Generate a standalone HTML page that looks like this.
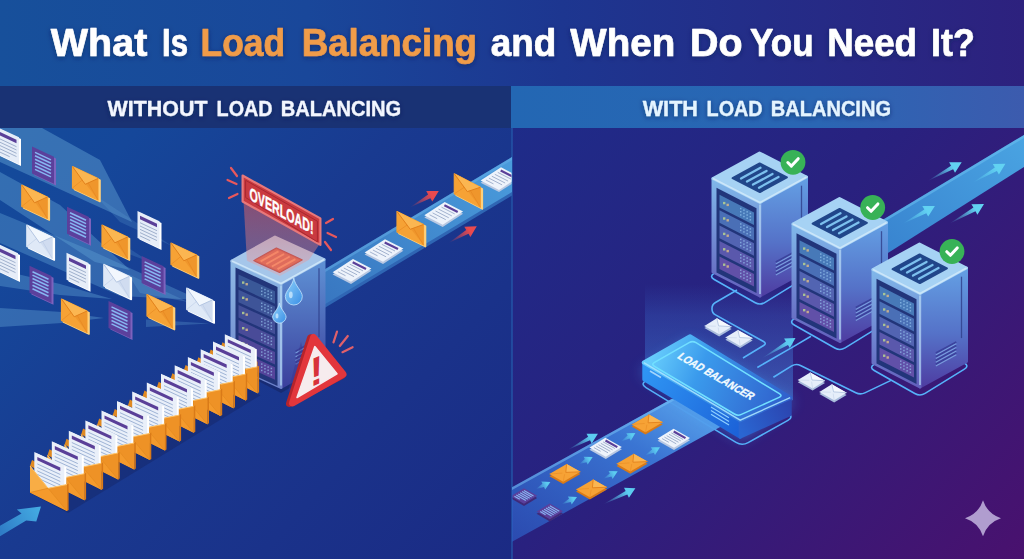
<!DOCTYPE html>
<html lang="en"><head><meta charset="utf-8"><title>What Is Load Balancing and When Do You Need It?</title>
<style>html,body{margin:0;padding:0;background:#1c2f80;}body{width:1024px;height:559px;overflow:hidden;font-family:"Liberation Sans",Arial,sans-serif;}svg{display:block;}</style>
</head><body>
<svg width="1024" height="559" viewBox="0 0 1024 559">
<defs>
<linearGradient id="gTitle" x1="0" y1="0" x2="1" y2="0"><stop offset="0" stop-color="#17509b"/><stop offset=".3" stop-color="#19479a"/><stop offset=".55" stop-color="#1d3690"/><stop offset="1" stop-color="#2d217e"/></linearGradient>
<linearGradient id="gLeft" x1="0" y1="0" x2="1" y2="1"><stop offset="0" stop-color="#124e9a"/><stop offset=".25" stop-color="#15479a"/><stop offset=".5" stop-color="#193a90"/><stop offset="1" stop-color="#1b2a84"/></linearGradient>
<linearGradient id="gRight" x1="0" y1="0" x2="1" y2="1"><stop offset="0" stop-color="#1b2f8c"/><stop offset=".5" stop-color="#29217f"/><stop offset="1" stop-color="#49116e"/></linearGradient>
<linearGradient id="gBarR" x1="0" y1="0" x2="1" y2="0"><stop offset="0" stop-color="#2367b3"/><stop offset=".6" stop-color="#2a66b4"/><stop offset="1" stop-color="#3c5bae"/></linearGradient>
<linearGradient id="gSrvL" x1="0" y1="0" x2="0" y2="1"><stop offset="0" stop-color="#8fbbe6"/><stop offset="1" stop-color="#6a7fc8"/></linearGradient>
<linearGradient id="gSrvR" x1="0" y1="0" x2="0" y2="1"><stop offset="0" stop-color="#5f93d6"/><stop offset="1" stop-color="#3b3f9c"/></linearGradient>
<linearGradient id="gSrvL2" x1="0" y1="0" x2="0" y2="1"><stop offset="0" stop-color="#80b8ea"/><stop offset="1" stop-color="#625fbc"/></linearGradient>
<linearGradient id="gSrvR2" x1="0" y1="0" x2="0" y2="1"><stop offset="0" stop-color="#64a0e4"/><stop offset=".55" stop-color="#5572c8"/><stop offset="1" stop-color="#4e3da2"/></linearGradient>
<linearGradient id="gGlow" x1="0" y1="0" x2="0" y2="1"><stop offset="0" stop-color="#e05a5a" stop-opacity=".55"/><stop offset="1" stop-color="#f0a0a0" stop-opacity=".35"/></linearGradient>
<linearGradient id="gLBtop" x1="0" y1="0" x2="1" y2="1"><stop offset="0" stop-color="#63b8f6"/><stop offset="1" stop-color="#2466d2"/></linearGradient>
<linearGradient id="gLBbeam" x1="0" y1="0" x2="0" y2="1"><stop offset="0" stop-color="#3a7fe0" stop-opacity="0"/><stop offset="1" stop-color="#4a9af0" stop-opacity=".38"/></linearGradient>
<linearGradient id="gConvR" x1="0" y1="1" x2="1" y2="0"><stop offset="0" stop-color="#2c5cc4" stop-opacity=".7"/><stop offset=".6" stop-color="#3c7edc" stop-opacity=".9"/><stop offset="1" stop-color="#66b6f6" stop-opacity="1"/></linearGradient>
<linearGradient id="gBeamR" x1="0" y1="1" x2="1" y2="0"><stop offset="0" stop-color="#347ccb"/><stop offset="1" stop-color="#4aa4e2"/></linearGradient>
<linearGradient id="gConvL" x1="0" y1="1" x2="1" y2="0"><stop offset="0" stop-color="#3876c0"/><stop offset="1" stop-color="#4a9cdc"/></linearGradient>
<linearGradient id="gDrop" x1="0" y1="0" x2="1" y2="1"><stop offset="0" stop-color="#8fd0fa"/><stop offset="1" stop-color="#3a8fe6"/></linearGradient>
</defs>
<rect x="0" y="0" width="512" height="559" fill="url(#gLeft)"/>
<rect x="512" y="0" width="512" height="559" fill="url(#gRight)"/>
<rect x="0" y="0" width="1024" height="87" fill="url(#gTitle)"/>
<rect x="0" y="86" width="512" height="42" fill="#193274"/>
<rect x="511" y="86" width="513" height="42" fill="url(#gBarR)"/>
<rect x="511" y="128" width="2" height="431" fill="#2456a8" opacity=".7"/>
<filter id="fSh" x="-5%" y="-30%" width="110%" height="170%"><feDropShadow dx="0" dy="1.5" stdDeviation="2.5" flood-color="#0a1a50" flood-opacity=".55"/></filter>
<g font-family="Liberation Sans, Arial, sans-serif" font-weight="700" filter="url(#fSh)" stroke-width=".7" stroke-linejoin="round">
<text x="50.8" y="55.7" font-size="38.5" fill="#fff" stroke="#fff" stroke-width="0.7" textLength="96.5" lengthAdjust="spacingAndGlyphs">What</text>
<text x="162.0" y="55.7" font-size="38.5" fill="#fff" stroke="#fff" stroke-width="0.7" textLength="26.0" lengthAdjust="spacingAndGlyphs">Is</text>
<text x="200.6" y="55.7" font-size="38.5" fill="#f09c48" stroke="#f09c48" stroke-width="0.7" textLength="84.6" lengthAdjust="spacingAndGlyphs">Load</text>
<text x="301.7" y="55.7" font-size="38.5" fill="#f09c48" stroke="#f09c48" stroke-width="0.7" textLength="175.3" lengthAdjust="spacingAndGlyphs">Balancing</text>
<text x="490.8" y="55.7" font-size="38.5" fill="#fff" stroke="#fff" stroke-width="0.7" textLength="65.5" lengthAdjust="spacingAndGlyphs">and</text>
<text x="570.3" y="55.7" font-size="38.5" fill="#fff" stroke="#fff" stroke-width="0.7" textLength="104.9" lengthAdjust="spacingAndGlyphs">When</text>
<text x="690.0" y="55.7" font-size="38.5" fill="#fff" stroke="#fff" stroke-width="0.7" textLength="52.5" lengthAdjust="spacingAndGlyphs">Do</text>
<text x="750.0" y="55.7" font-size="38.5" fill="#fff" stroke="#fff" stroke-width="0.7" textLength="63.6" lengthAdjust="spacingAndGlyphs">You</text>
<text x="827.3" y="55.7" font-size="38.5" fill="#fff" stroke="#fff" stroke-width="0.7" textLength="89.7" lengthAdjust="spacingAndGlyphs">Need</text>
<text x="931.0" y="55.7" font-size="38.5" fill="#fff" stroke="#fff" stroke-width="0.7" textLength="43.8" lengthAdjust="spacingAndGlyphs">It?</text>
<text x="107.6" y="115.6" font-size="21.3" fill="#f2f6ff" stroke="#f2f6ff" stroke-width="0.3" textLength="99.9" lengthAdjust="spacingAndGlyphs">WITHOUT</text>
<text x="216.6" y="115.6" font-size="21.3" fill="#f2f6ff" stroke="#f2f6ff" stroke-width="0.3" textLength="56.0" lengthAdjust="spacingAndGlyphs">LOAD</text>
<text x="280.7" y="115.6" font-size="21.3" fill="#f2f6ff" stroke="#f2f6ff" stroke-width="0.3" textLength="120.5" lengthAdjust="spacingAndGlyphs">BALANCING</text>
<text x="642.7" y="115.6" font-size="21.3" fill="#e4f4ff" stroke="#e4f4ff" stroke-width="0.3" textLength="55.3" lengthAdjust="spacingAndGlyphs">WITH</text>
<text x="706.6" y="115.6" font-size="21.3" fill="#e4f4ff" stroke="#e4f4ff" stroke-width="0.3" textLength="56.0" lengthAdjust="spacingAndGlyphs">LOAD</text>
<text x="770.8" y="115.6" font-size="21.3" fill="#e4f4ff" stroke="#e4f4ff" stroke-width="0.3" textLength="120.2" lengthAdjust="spacingAndGlyphs">BALANCING</text>
</g>
<polygon points="0.0,128.0 42.0,128.0 100.0,160.0 132.0,222.0 0.0,162.0" fill="#62a2d4" opacity="0.46"/>
<polygon points="0.0,172.0 0.0,200.0 95.0,262.0 130.0,270.0 60.0,205.0" fill="#62a2d4" opacity="0.42"/>
<polygon points="0.0,213.0 0.0,243.0 120.0,296.0 200.0,300.0 90.0,250.0" fill="#62a2d4" opacity="0.38"/>
<polygon points="0.0,270.0 0.0,286.0 60.0,295.0 112.0,299.0 60.0,284.0" fill="#62a2d4" opacity="0.4"/>
<polygon points="0.0,308.0 0.0,327.0 62.0,323.0 104.0,318.0 62.0,312.0" fill="#62a2d4" opacity="0.4"/>
<polygon points="146.0,319.5 210.0,323.5 146.0,327.0" fill="#62a2d4" opacity="0.3"/>
<polygon points="128.0,274.0 188.0,302.0 140.0,293.0" fill="#62a2d4" opacity="0.3"/>
<polygon points="96.0,196.0 172.0,246.0 120.0,222.0" fill="#62a2d4" opacity="0.22"/>
<polygon points="110.0,236.0 150.0,262.0 118.0,250.0" fill="#62a2d4" opacity="0.22"/>
<polygon points="-1.0,128.6 21.0,138.9 21.0,165.9 -1.0,155.6" fill="#ffffff" />
<polygon points="-3.0,127.0 19.0,137.3 19.0,164.3 -3.0,154.0" fill="#e6edf8" />
<polygon points="-0.5,131.7 16.5,139.7 16.5,143.3 -0.5,135.3" fill="#5a3f98" />
<line x1="-0.5" y1="138.7" x2="16.5" y2="146.7" stroke="#9fb0cc" stroke-width="1"/>
<line x1="-0.5" y1="142.0" x2="16.5" y2="150.0" stroke="#9fb0cc" stroke-width="1"/>
<line x1="-0.5" y1="145.3" x2="16.5" y2="153.3" stroke="#9fb0cc" stroke-width="1"/>
<line x1="-0.5" y1="148.6" x2="16.5" y2="156.6" stroke="#9fb0cc" stroke-width="1"/>
<line x1="-0.5" y1="151.9" x2="9.7" y2="156.7" stroke="#9fb0cc" stroke-width="1"/>
<polygon points="34.0,148.1 56.0,158.4 56.0,185.4 34.0,175.1" fill="#7d62bd" />
<polygon points="32.0,146.5 54.0,156.8 54.0,183.8 32.0,173.5" fill="#5b409c" />
<line x1="35.0" y1="152.4" x2="51.0" y2="159.9" stroke="#86b6f2" stroke-width="1.5"/>
<line x1="35.0" y1="155.8" x2="51.0" y2="163.3" stroke="#86b6f2" stroke-width="1.5"/>
<line x1="35.0" y1="159.2" x2="51.0" y2="166.7" stroke="#86b6f2" stroke-width="1.5"/>
<line x1="35.0" y1="162.6" x2="51.0" y2="170.1" stroke="#86b6f2" stroke-width="1.5"/>
<line x1="35.0" y1="166.0" x2="51.0" y2="173.5" stroke="#86b6f2" stroke-width="1.5"/>
<line x1="35.0" y1="169.4" x2="51.0" y2="176.9" stroke="#86b6f2" stroke-width="1.5"/>
<polygon points="74.5,168.1 100.0,180.1 100.0,201.6 74.5,189.6" fill="#ffd07a" stroke="#ffd07a" stroke-width="1.6" stroke-linejoin="round"/>
<polygon points="72.5,166.5 98.0,178.5 98.0,200.0 72.5,188.0" fill="#f6a235" stroke="#f6a235" stroke-width="1.2" stroke-linejoin="round"/>
<polygon points="98.0,178.5 98.0,200.0 85.2,183.2" fill="#e2811c" opacity=".35"/>
<polygon points="72.5,166.5 98.0,178.5 85.2,184.3" fill="#fbb651" />
<polyline points="72.5,166.5 85.2,184.3 98.0,178.5" fill="none" stroke="#e2811c" stroke-width="1"/>
<polyline points="72.5,188.0 82.2,180.1" fill="none" stroke="#e2811c" stroke-width=".7" opacity=".7"/>
<polyline points="98.0,200.0 88.3,183.0" fill="none" stroke="#e2811c" stroke-width=".7" opacity=".7"/>
<polygon points="23.8,186.6 49.3,198.6 49.3,220.1 23.8,208.1" fill="#ffd07a" stroke="#ffd07a" stroke-width="1.6" stroke-linejoin="round"/>
<polygon points="21.8,185.0 47.3,197.0 47.3,218.5 21.8,206.5" fill="#f6a235" stroke="#f6a235" stroke-width="1.2" stroke-linejoin="round"/>
<polygon points="47.3,197.0 47.3,218.5 34.5,201.7" fill="#e2811c" opacity=".35"/>
<polygon points="21.8,185.0 47.3,197.0 34.5,202.8" fill="#fbb651" />
<polyline points="21.8,185.0 34.5,202.8 47.3,197.0" fill="none" stroke="#e2811c" stroke-width="1"/>
<polyline points="21.8,206.5 31.5,198.6" fill="none" stroke="#e2811c" stroke-width=".7" opacity=".7"/>
<polyline points="47.3,218.5 37.6,201.5" fill="none" stroke="#e2811c" stroke-width=".7" opacity=".7"/>
<polygon points="69.0,208.4 91.0,218.7 91.0,245.7 69.0,235.4" fill="#7d62bd" />
<polygon points="67.0,206.8 89.0,217.1 89.0,244.1 67.0,233.8" fill="#5b409c" />
<line x1="70.0" y1="212.7" x2="86.0" y2="220.2" stroke="#86b6f2" stroke-width="1.5"/>
<line x1="70.0" y1="216.1" x2="86.0" y2="223.6" stroke="#86b6f2" stroke-width="1.5"/>
<line x1="70.0" y1="219.5" x2="86.0" y2="227.0" stroke="#86b6f2" stroke-width="1.5"/>
<line x1="70.0" y1="222.9" x2="86.0" y2="230.4" stroke="#86b6f2" stroke-width="1.5"/>
<line x1="70.0" y1="226.3" x2="86.0" y2="233.8" stroke="#86b6f2" stroke-width="1.5"/>
<line x1="70.0" y1="229.7" x2="86.0" y2="237.2" stroke="#86b6f2" stroke-width="1.5"/>
<polygon points="28.8,226.6 54.3,238.6 54.3,260.1 28.8,248.1" fill="#ffffff" stroke="#ffffff" stroke-width="1.6" stroke-linejoin="round"/>
<polygon points="26.8,225.0 52.3,237.0 52.3,258.5 26.8,246.5" fill="#dfe9f7" stroke="#dfe9f7" stroke-width="1.2" stroke-linejoin="round"/>
<polygon points="52.3,237.0 52.3,258.5 39.5,241.7" fill="#b4c6e2" opacity=".35"/>
<polygon points="26.8,225.0 52.3,237.0 39.5,242.8" fill="#f2f7fd" />
<polyline points="26.8,225.0 39.5,242.8 52.3,237.0" fill="none" stroke="#b4c6e2" stroke-width="1"/>
<polyline points="26.8,246.5 36.5,238.6" fill="none" stroke="#b4c6e2" stroke-width=".7" opacity=".7"/>
<polyline points="52.3,258.5 42.6,241.5" fill="none" stroke="#b4c6e2" stroke-width=".7" opacity=".7"/>
<polygon points="104.0,226.6 129.5,238.6 129.5,260.1 104.0,248.1" fill="#ffd07a" stroke="#ffd07a" stroke-width="1.6" stroke-linejoin="round"/>
<polygon points="102.0,225.0 127.5,237.0 127.5,258.5 102.0,246.5" fill="#f6a235" stroke="#f6a235" stroke-width="1.2" stroke-linejoin="round"/>
<polygon points="127.5,237.0 127.5,258.5 114.8,241.7" fill="#e2811c" opacity=".35"/>
<polygon points="102.0,225.0 127.5,237.0 114.8,242.8" fill="#fbb651" />
<polyline points="102.0,225.0 114.8,242.8 127.5,237.0" fill="none" stroke="#e2811c" stroke-width="1"/>
<polyline points="102.0,246.5 111.7,238.6" fill="none" stroke="#e2811c" stroke-width=".7" opacity=".7"/>
<polyline points="127.5,258.5 117.8,241.5" fill="none" stroke="#e2811c" stroke-width=".7" opacity=".7"/>
<polygon points="139.5,212.6 161.5,222.9 161.5,249.9 139.5,239.6" fill="#ffffff" />
<polygon points="137.5,211.0 159.5,221.3 159.5,248.3 137.5,238.0" fill="#e6edf8" />
<polygon points="140.0,215.7 157.0,223.7 157.0,227.3 140.0,219.3" fill="#5a3f98" />
<line x1="140.0" y1="222.7" x2="157.0" y2="230.7" stroke="#9fb0cc" stroke-width="1"/>
<line x1="140.0" y1="226.0" x2="157.0" y2="234.0" stroke="#9fb0cc" stroke-width="1"/>
<line x1="140.0" y1="229.3" x2="157.0" y2="237.3" stroke="#9fb0cc" stroke-width="1"/>
<line x1="140.0" y1="232.6" x2="157.0" y2="240.6" stroke="#9fb0cc" stroke-width="1"/>
<line x1="140.0" y1="235.9" x2="150.2" y2="240.7" stroke="#9fb0cc" stroke-width="1"/>
<polygon points="173.0,244.6 198.5,256.6 198.5,278.1 173.0,266.1" fill="#ffd07a" stroke="#ffd07a" stroke-width="1.6" stroke-linejoin="round"/>
<polygon points="171.0,243.0 196.5,255.0 196.5,276.5 171.0,264.5" fill="#f6a235" stroke="#f6a235" stroke-width="1.2" stroke-linejoin="round"/>
<polygon points="196.5,255.0 196.5,276.5 183.8,259.7" fill="#e2811c" opacity=".35"/>
<polygon points="171.0,243.0 196.5,255.0 183.8,260.8" fill="#fbb651" />
<polyline points="171.0,243.0 183.8,260.8 196.5,255.0" fill="none" stroke="#e2811c" stroke-width="1"/>
<polyline points="171.0,264.5 180.7,256.6" fill="none" stroke="#e2811c" stroke-width=".7" opacity=".7"/>
<polyline points="196.5,276.5 186.8,259.5" fill="none" stroke="#e2811c" stroke-width=".7" opacity=".7"/>
<polygon points="143.6,257.6 165.6,267.9 165.6,294.9 143.6,284.6" fill="#7d62bd" />
<polygon points="141.6,256.0 163.6,266.3 163.6,293.3 141.6,283.0" fill="#5b409c" />
<line x1="144.6" y1="261.9" x2="160.6" y2="269.4" stroke="#86b6f2" stroke-width="1.5"/>
<line x1="144.6" y1="265.3" x2="160.6" y2="272.8" stroke="#86b6f2" stroke-width="1.5"/>
<line x1="144.6" y1="268.7" x2="160.6" y2="276.2" stroke="#86b6f2" stroke-width="1.5"/>
<line x1="144.6" y1="272.1" x2="160.6" y2="279.6" stroke="#86b6f2" stroke-width="1.5"/>
<line x1="144.6" y1="275.5" x2="160.6" y2="283.0" stroke="#86b6f2" stroke-width="1.5"/>
<line x1="144.6" y1="278.9" x2="160.6" y2="286.4" stroke="#86b6f2" stroke-width="1.5"/>
<polygon points="-2.0,244.6 20.0,254.9 20.0,281.9 -2.0,271.6" fill="#ffffff" />
<polygon points="-4.0,243.0 18.0,253.3 18.0,280.3 -4.0,270.0" fill="#e6edf8" />
<polygon points="-1.5,247.7 15.5,255.7 15.5,259.3 -1.5,251.3" fill="#5a3f98" />
<line x1="-1.5" y1="254.7" x2="15.5" y2="262.7" stroke="#9fb0cc" stroke-width="1"/>
<line x1="-1.5" y1="258.0" x2="15.5" y2="266.0" stroke="#9fb0cc" stroke-width="1"/>
<line x1="-1.5" y1="261.3" x2="15.5" y2="269.3" stroke="#9fb0cc" stroke-width="1"/>
<line x1="-1.5" y1="264.6" x2="15.5" y2="272.6" stroke="#9fb0cc" stroke-width="1"/>
<line x1="-1.5" y1="267.9" x2="8.7" y2="272.7" stroke="#9fb0cc" stroke-width="1"/>
<polygon points="68.5,254.4 90.5,264.7 90.5,291.7 68.5,281.4" fill="#ffffff" />
<polygon points="66.5,252.8 88.5,263.1 88.5,290.1 66.5,279.8" fill="#e6edf8" />
<polygon points="69.0,257.5 86.0,265.5 86.0,269.1 69.0,261.1" fill="#5a3f98" />
<line x1="69.0" y1="264.5" x2="86.0" y2="272.5" stroke="#9fb0cc" stroke-width="1"/>
<line x1="69.0" y1="267.8" x2="86.0" y2="275.8" stroke="#9fb0cc" stroke-width="1"/>
<line x1="69.0" y1="271.1" x2="86.0" y2="279.1" stroke="#9fb0cc" stroke-width="1"/>
<line x1="69.0" y1="274.4" x2="86.0" y2="282.4" stroke="#9fb0cc" stroke-width="1"/>
<line x1="69.0" y1="277.7" x2="79.2" y2="282.5" stroke="#9fb0cc" stroke-width="1"/>
<polygon points="31.5,267.4 53.5,277.7 53.5,304.7 31.5,294.4" fill="#7d62bd" />
<polygon points="29.5,265.8 51.5,276.1 51.5,303.1 29.5,292.8" fill="#5b409c" />
<line x1="32.5" y1="271.7" x2="48.5" y2="279.2" stroke="#86b6f2" stroke-width="1.5"/>
<line x1="32.5" y1="275.1" x2="48.5" y2="282.6" stroke="#86b6f2" stroke-width="1.5"/>
<line x1="32.5" y1="278.5" x2="48.5" y2="286.0" stroke="#86b6f2" stroke-width="1.5"/>
<line x1="32.5" y1="281.9" x2="48.5" y2="289.4" stroke="#86b6f2" stroke-width="1.5"/>
<line x1="32.5" y1="285.3" x2="48.5" y2="292.8" stroke="#86b6f2" stroke-width="1.5"/>
<line x1="32.5" y1="288.7" x2="48.5" y2="296.2" stroke="#86b6f2" stroke-width="1.5"/>
<polygon points="105.8,266.0 131.3,278.0 131.3,299.5 105.8,287.5" fill="#ffffff" stroke="#ffffff" stroke-width="1.6" stroke-linejoin="round"/>
<polygon points="103.8,264.4 129.3,276.4 129.3,297.9 103.8,285.9" fill="#dfe9f7" stroke="#dfe9f7" stroke-width="1.2" stroke-linejoin="round"/>
<polygon points="129.3,276.4 129.3,297.9 116.5,281.1" fill="#b4c6e2" opacity=".35"/>
<polygon points="103.8,264.4 129.3,276.4 116.5,282.2" fill="#f2f7fd" />
<polyline points="103.8,264.4 116.5,282.2 129.3,276.4" fill="none" stroke="#b4c6e2" stroke-width="1"/>
<polyline points="103.8,285.9 113.5,278.0" fill="none" stroke="#b4c6e2" stroke-width=".7" opacity=".7"/>
<polyline points="129.3,297.9 119.6,280.9" fill="none" stroke="#b4c6e2" stroke-width=".7" opacity=".7"/>
<polygon points="63.5,300.6 89.0,312.6 89.0,334.1 63.5,322.1" fill="#ffd07a" stroke="#ffd07a" stroke-width="1.6" stroke-linejoin="round"/>
<polygon points="61.5,299.0 87.0,311.0 87.0,332.5 61.5,320.5" fill="#f6a235" stroke="#f6a235" stroke-width="1.2" stroke-linejoin="round"/>
<polygon points="87.0,311.0 87.0,332.5 74.2,315.7" fill="#e2811c" opacity=".35"/>
<polygon points="61.5,299.0 87.0,311.0 74.2,316.8" fill="#fbb651" />
<polyline points="61.5,299.0 74.2,316.8 87.0,311.0" fill="none" stroke="#e2811c" stroke-width="1"/>
<polyline points="61.5,320.5 71.2,312.6" fill="none" stroke="#e2811c" stroke-width=".7" opacity=".7"/>
<polyline points="87.0,332.5 77.3,315.5" fill="none" stroke="#e2811c" stroke-width=".7" opacity=".7"/>
<polygon points="110.5,302.6 132.5,312.9 132.5,339.9 110.5,329.6" fill="#7d62bd" />
<polygon points="108.5,301.0 130.5,311.3 130.5,338.3 108.5,328.0" fill="#5b409c" />
<line x1="111.5" y1="306.9" x2="127.5" y2="314.4" stroke="#86b6f2" stroke-width="1.5"/>
<line x1="111.5" y1="310.3" x2="127.5" y2="317.8" stroke="#86b6f2" stroke-width="1.5"/>
<line x1="111.5" y1="313.7" x2="127.5" y2="321.2" stroke="#86b6f2" stroke-width="1.5"/>
<line x1="111.5" y1="317.1" x2="127.5" y2="324.6" stroke="#86b6f2" stroke-width="1.5"/>
<line x1="111.5" y1="320.5" x2="127.5" y2="328.0" stroke="#86b6f2" stroke-width="1.5"/>
<line x1="111.5" y1="323.9" x2="127.5" y2="331.4" stroke="#86b6f2" stroke-width="1.5"/>
<polygon points="149.0,296.1 174.5,308.1 174.5,329.6 149.0,317.6" fill="#ffd07a" stroke="#ffd07a" stroke-width="1.6" stroke-linejoin="round"/>
<polygon points="147.0,294.5 172.5,306.5 172.5,328.0 147.0,316.0" fill="#f6a235" stroke="#f6a235" stroke-width="1.2" stroke-linejoin="round"/>
<polygon points="172.5,306.5 172.5,328.0 159.8,311.2" fill="#e2811c" opacity=".35"/>
<polygon points="147.0,294.5 172.5,306.5 159.8,312.3" fill="#fbb651" />
<polyline points="147.0,294.5 159.8,312.3 172.5,306.5" fill="none" stroke="#e2811c" stroke-width="1"/>
<polyline points="147.0,316.0 156.7,308.1" fill="none" stroke="#e2811c" stroke-width=".7" opacity=".7"/>
<polyline points="172.5,328.0 162.8,311.0" fill="none" stroke="#e2811c" stroke-width=".7" opacity=".7"/>
<polygon points="188.7,289.6 214.2,301.6 214.2,323.1 188.7,311.1" fill="#ffffff" stroke="#ffffff" stroke-width="1.6" stroke-linejoin="round"/>
<polygon points="186.7,288.0 212.2,300.0 212.2,321.5 186.7,309.5" fill="#dfe9f7" stroke="#dfe9f7" stroke-width="1.2" stroke-linejoin="round"/>
<polygon points="212.2,300.0 212.2,321.5 199.4,304.7" fill="#b4c6e2" opacity=".35"/>
<polygon points="186.7,288.0 212.2,300.0 199.4,305.8" fill="#f2f7fd" />
<polyline points="186.7,288.0 199.4,305.8 212.2,300.0" fill="none" stroke="#b4c6e2" stroke-width="1"/>
<polyline points="186.7,309.5 196.4,301.6" fill="none" stroke="#b4c6e2" stroke-width=".7" opacity=".7"/>
<polyline points="212.2,321.5 202.5,304.5" fill="none" stroke="#b4c6e2" stroke-width=".7" opacity=".7"/>
<polygon points="322.0,271.0 512.0,157.0 512.0,194.0 322.0,308.0" fill="url(#gConvL)" />
<polygon points="322.0,306.0 512.0,192.0 512.0,195.5 322.0,309.5" fill="#2f66b4" />
<polygon points="322.0,271.0 512.0,157.0 512.0,160.0 322.0,274.0" fill="#66aee8" opacity=".5"/>
<polygon points="332.6,274.5 353.0,261.3 371.4,270.7 351.0,283.9" fill="#b9c8e2" />
<polygon points="332.6,272.3 353.0,259.1 371.4,268.5 351.0,281.7" fill="#eef3fb" />
<line x1="352.7" y1="262.3" x2="366.0" y2="269.0" stroke="#5a3f98" stroke-width="2.2"/>
<line x1="349.8" y1="264.2" x2="363.0" y2="270.9" stroke="#9aaac8" stroke-width=".9"/>
<line x1="346.8" y1="266.1" x2="360.1" y2="272.9" stroke="#9aaac8" stroke-width=".9"/>
<line x1="343.8" y1="268.0" x2="357.1" y2="274.8" stroke="#9aaac8" stroke-width=".9"/>
<line x1="340.9" y1="269.9" x2="354.1" y2="276.7" stroke="#9aaac8" stroke-width=".9"/>
<line x1="337.9" y1="271.8" x2="345.5" y2="275.7" stroke="#9aaac8" stroke-width=".9"/>
<polygon points="364.6,254.6 385.0,241.4 403.4,250.8 383.0,264.0" fill="#b9c8e2" />
<polygon points="364.6,252.4 385.0,239.2 403.4,248.6 383.0,261.8" fill="#eef3fb" />
<line x1="384.7" y1="242.4" x2="398.0" y2="249.1" stroke="#5a3f98" stroke-width="2.2"/>
<line x1="381.8" y1="244.3" x2="395.0" y2="251.0" stroke="#9aaac8" stroke-width=".9"/>
<line x1="378.8" y1="246.2" x2="392.1" y2="253.0" stroke="#9aaac8" stroke-width=".9"/>
<line x1="375.8" y1="248.1" x2="389.1" y2="254.9" stroke="#9aaac8" stroke-width=".9"/>
<line x1="372.9" y1="250.0" x2="386.1" y2="256.8" stroke="#9aaac8" stroke-width=".9"/>
<line x1="369.9" y1="251.9" x2="377.5" y2="255.8" stroke="#9aaac8" stroke-width=".9"/>
<polygon points="399.0,213.1 425.5,226.1 425.5,246.6 399.0,233.6" fill="#ffd07a" stroke="#ffd07a" stroke-width="1.6" stroke-linejoin="round"/>
<polygon points="397.0,211.5 423.5,224.5 423.5,245.0 397.0,232.0" fill="#f6a235" stroke="#f6a235" stroke-width="1.2" stroke-linejoin="round"/>
<polygon points="423.5,224.5 423.5,245.0 410.2,228.2" fill="#e2811c" opacity=".35"/>
<polygon points="397.0,211.5 423.5,224.5 410.2,229.3" fill="#fbb651" />
<polyline points="397.0,211.5 410.2,229.3 423.5,224.5" fill="none" stroke="#e2811c" stroke-width="1"/>
<polyline points="397.0,232.0 407.1,225.0" fill="none" stroke="#e2811c" stroke-width=".7" opacity=".7"/>
<polyline points="423.5,245.0 413.4,228.2" fill="none" stroke="#e2811c" stroke-width=".7" opacity=".7"/>
<polygon points="424.3,217.5 444.7,204.3 463.1,213.7 442.7,226.9" fill="#b9c8e2" />
<polygon points="424.3,215.3 444.7,202.1 463.1,211.5 442.7,224.7" fill="#eef3fb" />
<line x1="444.4" y1="205.3" x2="457.7" y2="212.0" stroke="#5a3f98" stroke-width="2.2"/>
<line x1="441.5" y1="207.2" x2="454.7" y2="213.9" stroke="#9aaac8" stroke-width=".9"/>
<line x1="438.5" y1="209.1" x2="451.8" y2="215.9" stroke="#9aaac8" stroke-width=".9"/>
<line x1="435.5" y1="211.0" x2="448.8" y2="217.8" stroke="#9aaac8" stroke-width=".9"/>
<line x1="432.6" y1="212.9" x2="445.8" y2="219.7" stroke="#9aaac8" stroke-width=".9"/>
<line x1="429.6" y1="214.8" x2="437.2" y2="218.7" stroke="#9aaac8" stroke-width=".9"/>
<polygon points="456.3,175.4 482.3,188.9 482.3,208.9 456.3,195.4" fill="#ffd07a" stroke="#ffd07a" stroke-width="1.6" stroke-linejoin="round"/>
<polygon points="454.3,173.8 480.3,187.3 480.3,207.3 454.3,193.8" fill="#f6a235" stroke="#f6a235" stroke-width="1.2" stroke-linejoin="round"/>
<polygon points="480.3,187.3 480.3,207.3 467.3,190.6" fill="#e2811c" opacity=".35"/>
<polygon points="454.3,173.8 480.3,187.3 467.3,191.6" fill="#fbb651" />
<polyline points="454.3,173.8 467.3,191.6 480.3,187.3" fill="none" stroke="#e2811c" stroke-width="1"/>
<polyline points="454.3,193.8 464.2,187.3" fill="none" stroke="#e2811c" stroke-width=".7" opacity=".7"/>
<polyline points="480.3,207.3 470.4,190.6" fill="none" stroke="#e2811c" stroke-width=".7" opacity=".7"/>
<clipPath id="cL"><rect x="0" y="0" width="511.5" height="559"/></clipPath><g clip-path="url(#cL)">
<polygon points="480.6,182.7 501.0,169.5 519.4,178.9 499.0,192.1" fill="#b9c8e2" />
<polygon points="480.6,180.5 501.0,167.3 519.4,176.7 499.0,189.9" fill="#eef3fb" />
<line x1="500.7" y1="170.5" x2="514.0" y2="177.2" stroke="#5a3f98" stroke-width="2.2"/>
<line x1="497.8" y1="172.4" x2="511.0" y2="179.1" stroke="#9aaac8" stroke-width=".9"/>
<line x1="494.8" y1="174.3" x2="508.1" y2="181.1" stroke="#9aaac8" stroke-width=".9"/>
<line x1="491.8" y1="176.2" x2="505.1" y2="183.0" stroke="#9aaac8" stroke-width=".9"/>
<line x1="488.9" y1="178.1" x2="502.1" y2="184.9" stroke="#9aaac8" stroke-width=".9"/>
<line x1="485.9" y1="180.0" x2="493.5" y2="183.9" stroke="#9aaac8" stroke-width=".9"/>
</g>
<linearGradient id="ga221" gradientUnits="userSpaceOnUse" x1="409.8" y1="207.6" x2="438.8" y2="190.9"><stop offset="0" stop-color="#ea4a4e" stop-opacity="0"/><stop offset=".75" stop-color="#ea4a4e" stop-opacity="1"/></linearGradient>
<polygon points="409.8,207.6 430.4,198.3 432.3,201.6 438.8,190.9 426.2,191.1 428.1,194.4" fill="url(#ga221)" />
<linearGradient id="ga223" gradientUnits="userSpaceOnUse" x1="448.5" y1="243.0" x2="476.8" y2="226.3"><stop offset="0" stop-color="#ea4a4e" stop-opacity="0"/><stop offset=".75" stop-color="#ea4a4e" stop-opacity="1"/></linearGradient>
<polygon points="448.5,243.0 468.5,233.8 470.4,237.1 476.8,226.3 464.3,226.7 466.2,230.0" fill="url(#ga223)" />
<polygon points="228.0,365.0 281.0,393.0 328.0,366.0 281.0,345.0" fill="#16235f" opacity=".55"/>
<polygon points="281.0,283.5 324.0,259.5 324.0,363.5 281.0,387.5" fill="url(#gSrvR)" stroke="url(#gSrvR)" stroke-width="3" stroke-linejoin="round"/>
<polygon points="232.0,261.0 281.0,283.5 281.0,387.5 232.0,365.0" fill="url(#gSrvL)" stroke="url(#gSrvL)" stroke-width="3" stroke-linejoin="round"/>
<polygon points="232.0,261.0 275.0,237.0 324.0,259.5 281.0,283.5" fill="#a5c6ea" stroke="#a5c6ea" stroke-width="3" stroke-linejoin="round"/>
<polyline points="232.0,261.0 281.0,283.5 324.0,259.5" fill="none" stroke="#cfe8fa" stroke-width="1.6" stroke-linejoin="round" opacity=".9"/>
<line x1="281.0" y1="285.5" x2="281.0" y2="385.5" stroke="#b9dcf8" stroke-width="1.6" opacity=".8"/>
<polygon points="235.5,267.6 277.5,286.9 277.5,386.0 235.5,366.7" fill="#22357a" />
<polygon points="238.5,274.5 275.0,291.2 275.0,303.8 238.5,287.1" fill="#3a5898" />
<rect x="242.0" y="281.4" width="2.4" height="2.4" fill="#b9d48e" opacity=".85"/>
<rect x="245.5" y="283.0" width="2.4" height="2.4" fill="#d8b98a" opacity=".85"/>
<rect x="261.0" y="287.3" width="1.5" height="1.5" fill="#9fd0f6" opacity=".6"/>
<rect x="264.2" y="288.8" width="1.5" height="1.5" fill="#9fd0f6" opacity=".6"/>
<rect x="267.4" y="290.3" width="1.5" height="1.5" fill="#9fd0f6" opacity=".6"/>
<rect x="270.6" y="291.7" width="1.5" height="1.5" fill="#9fd0f6" opacity=".6"/>
<rect x="261.0" y="290.5" width="1.5" height="1.5" fill="#9fd0f6" opacity=".6"/>
<rect x="264.2" y="292.0" width="1.5" height="1.5" fill="#9fd0f6" opacity=".6"/>
<rect x="267.4" y="293.5" width="1.5" height="1.5" fill="#9fd0f6" opacity=".6"/>
<rect x="270.6" y="294.9" width="1.5" height="1.5" fill="#9fd0f6" opacity=".6"/>
<rect x="261.0" y="293.7" width="1.5" height="1.5" fill="#9fd0f6" opacity=".6"/>
<rect x="264.2" y="295.2" width="1.5" height="1.5" fill="#9fd0f6" opacity=".6"/>
<rect x="267.4" y="296.7" width="1.5" height="1.5" fill="#9fd0f6" opacity=".6"/>
<rect x="270.6" y="298.1" width="1.5" height="1.5" fill="#9fd0f6" opacity=".6"/>
<polygon points="238.5,289.7 275.0,306.4 275.0,319.0 238.5,302.3" fill="#3e5498" />
<rect x="242.0" y="296.6" width="2.4" height="2.4" fill="#b9d48e" opacity=".85"/>
<rect x="245.5" y="298.2" width="2.4" height="2.4" fill="#d8b98a" opacity=".85"/>
<rect x="261.0" y="302.5" width="1.5" height="1.5" fill="#9fd0f6" opacity=".6"/>
<rect x="264.2" y="304.0" width="1.5" height="1.5" fill="#9fd0f6" opacity=".6"/>
<rect x="267.4" y="305.5" width="1.5" height="1.5" fill="#9fd0f6" opacity=".6"/>
<rect x="270.6" y="306.9" width="1.5" height="1.5" fill="#9fd0f6" opacity=".6"/>
<rect x="261.0" y="305.7" width="1.5" height="1.5" fill="#9fd0f6" opacity=".6"/>
<rect x="264.2" y="307.2" width="1.5" height="1.5" fill="#9fd0f6" opacity=".6"/>
<rect x="267.4" y="308.7" width="1.5" height="1.5" fill="#9fd0f6" opacity=".6"/>
<rect x="270.6" y="310.1" width="1.5" height="1.5" fill="#9fd0f6" opacity=".6"/>
<rect x="261.0" y="308.9" width="1.5" height="1.5" fill="#9fd0f6" opacity=".6"/>
<rect x="264.2" y="310.4" width="1.5" height="1.5" fill="#9fd0f6" opacity=".6"/>
<rect x="267.4" y="311.9" width="1.5" height="1.5" fill="#9fd0f6" opacity=".6"/>
<rect x="270.6" y="313.3" width="1.5" height="1.5" fill="#9fd0f6" opacity=".6"/>
<polygon points="238.5,304.9 275.0,321.6 275.0,334.2 238.5,317.5" fill="#434f98" />
<rect x="242.0" y="311.8" width="2.4" height="2.4" fill="#b9d48e" opacity=".85"/>
<rect x="245.5" y="313.4" width="2.4" height="2.4" fill="#d8b98a" opacity=".85"/>
<rect x="261.0" y="317.7" width="1.5" height="1.5" fill="#9fd0f6" opacity=".6"/>
<rect x="264.2" y="319.2" width="1.5" height="1.5" fill="#9fd0f6" opacity=".6"/>
<rect x="267.4" y="320.7" width="1.5" height="1.5" fill="#9fd0f6" opacity=".6"/>
<rect x="270.6" y="322.1" width="1.5" height="1.5" fill="#9fd0f6" opacity=".6"/>
<rect x="261.0" y="320.9" width="1.5" height="1.5" fill="#9fd0f6" opacity=".6"/>
<rect x="264.2" y="322.4" width="1.5" height="1.5" fill="#9fd0f6" opacity=".6"/>
<rect x="267.4" y="323.9" width="1.5" height="1.5" fill="#9fd0f6" opacity=".6"/>
<rect x="270.6" y="325.3" width="1.5" height="1.5" fill="#9fd0f6" opacity=".6"/>
<rect x="261.0" y="324.1" width="1.5" height="1.5" fill="#9fd0f6" opacity=".6"/>
<rect x="264.2" y="325.6" width="1.5" height="1.5" fill="#9fd0f6" opacity=".6"/>
<rect x="267.4" y="327.1" width="1.5" height="1.5" fill="#9fd0f6" opacity=".6"/>
<rect x="270.6" y="328.5" width="1.5" height="1.5" fill="#9fd0f6" opacity=".6"/>
<polygon points="238.5,320.1 275.0,336.8 275.0,349.4 238.5,332.7" fill="#494b98" />
<rect x="242.0" y="327.0" width="2.4" height="2.4" fill="#b9d48e" opacity=".85"/>
<rect x="245.5" y="328.6" width="2.4" height="2.4" fill="#d8b98a" opacity=".85"/>
<rect x="261.0" y="332.9" width="1.5" height="1.5" fill="#9fd0f6" opacity=".6"/>
<rect x="264.2" y="334.4" width="1.5" height="1.5" fill="#9fd0f6" opacity=".6"/>
<rect x="267.4" y="335.9" width="1.5" height="1.5" fill="#9fd0f6" opacity=".6"/>
<rect x="270.6" y="337.3" width="1.5" height="1.5" fill="#9fd0f6" opacity=".6"/>
<rect x="261.0" y="336.1" width="1.5" height="1.5" fill="#9fd0f6" opacity=".6"/>
<rect x="264.2" y="337.6" width="1.5" height="1.5" fill="#9fd0f6" opacity=".6"/>
<rect x="267.4" y="339.1" width="1.5" height="1.5" fill="#9fd0f6" opacity=".6"/>
<rect x="270.6" y="340.5" width="1.5" height="1.5" fill="#9fd0f6" opacity=".6"/>
<rect x="261.0" y="339.3" width="1.5" height="1.5" fill="#9fd0f6" opacity=".6"/>
<rect x="264.2" y="340.8" width="1.5" height="1.5" fill="#9fd0f6" opacity=".6"/>
<rect x="267.4" y="342.3" width="1.5" height="1.5" fill="#9fd0f6" opacity=".6"/>
<rect x="270.6" y="343.7" width="1.5" height="1.5" fill="#9fd0f6" opacity=".6"/>
<polygon points="238.5,335.3 275.0,352.0 275.0,364.6 238.5,347.9" fill="#4f4799" />
<rect x="242.0" y="342.2" width="2.4" height="2.4" fill="#b9d48e" opacity=".85"/>
<rect x="245.5" y="343.8" width="2.4" height="2.4" fill="#d8b98a" opacity=".85"/>
<rect x="261.0" y="348.1" width="1.5" height="1.5" fill="#9fd0f6" opacity=".6"/>
<rect x="264.2" y="349.6" width="1.5" height="1.5" fill="#9fd0f6" opacity=".6"/>
<rect x="267.4" y="351.1" width="1.5" height="1.5" fill="#9fd0f6" opacity=".6"/>
<rect x="270.6" y="352.5" width="1.5" height="1.5" fill="#9fd0f6" opacity=".6"/>
<rect x="261.0" y="351.3" width="1.5" height="1.5" fill="#9fd0f6" opacity=".6"/>
<rect x="264.2" y="352.8" width="1.5" height="1.5" fill="#9fd0f6" opacity=".6"/>
<rect x="267.4" y="354.3" width="1.5" height="1.5" fill="#9fd0f6" opacity=".6"/>
<rect x="270.6" y="355.7" width="1.5" height="1.5" fill="#9fd0f6" opacity=".6"/>
<rect x="261.0" y="354.5" width="1.5" height="1.5" fill="#9fd0f6" opacity=".6"/>
<rect x="264.2" y="356.0" width="1.5" height="1.5" fill="#9fd0f6" opacity=".6"/>
<rect x="267.4" y="357.5" width="1.5" height="1.5" fill="#9fd0f6" opacity=".6"/>
<rect x="270.6" y="358.9" width="1.5" height="1.5" fill="#9fd0f6" opacity=".6"/>
<polygon points="238.5,350.5 275.0,367.2 275.0,379.8 238.5,363.1" fill="#55449a" />
<rect x="242.0" y="357.4" width="2.4" height="2.4" fill="#b9d48e" opacity=".85"/>
<rect x="245.5" y="359.0" width="2.4" height="2.4" fill="#d8b98a" opacity=".85"/>
<rect x="261.0" y="363.3" width="1.5" height="1.5" fill="#9fd0f6" opacity=".6"/>
<rect x="264.2" y="364.8" width="1.5" height="1.5" fill="#9fd0f6" opacity=".6"/>
<rect x="267.4" y="366.3" width="1.5" height="1.5" fill="#9fd0f6" opacity=".6"/>
<rect x="270.6" y="367.7" width="1.5" height="1.5" fill="#9fd0f6" opacity=".6"/>
<rect x="261.0" y="366.5" width="1.5" height="1.5" fill="#9fd0f6" opacity=".6"/>
<rect x="264.2" y="368.0" width="1.5" height="1.5" fill="#9fd0f6" opacity=".6"/>
<rect x="267.4" y="369.5" width="1.5" height="1.5" fill="#9fd0f6" opacity=".6"/>
<rect x="270.6" y="370.9" width="1.5" height="1.5" fill="#9fd0f6" opacity=".6"/>
<rect x="261.0" y="369.7" width="1.5" height="1.5" fill="#9fd0f6" opacity=".6"/>
<rect x="264.2" y="371.2" width="1.5" height="1.5" fill="#9fd0f6" opacity=".6"/>
<rect x="267.4" y="372.7" width="1.5" height="1.5" fill="#9fd0f6" opacity=".6"/>
<rect x="270.6" y="374.1" width="1.5" height="1.5" fill="#9fd0f6" opacity=".6"/>
<polygon points="254.1,260.6 276.4,248.2 301.9,259.9 279.6,272.3" fill="#c8483c" stroke="#a63030" stroke-width="1.6" stroke-linejoin="round"/>
<line x1="260.6" y1="261.4" x2="278.5" y2="251.4" stroke="#ff8e5c" stroke-width="2"/>
<line x1="266.3" y1="264.0" x2="284.1" y2="254.0" stroke="#ff8e5c" stroke-width="2"/>
<line x1="271.9" y1="266.5" x2="289.7" y2="256.5" stroke="#ff8e5c" stroke-width="2"/>
<line x1="277.5" y1="269.1" x2="295.4" y2="259.1" stroke="#ff8e5c" stroke-width="2"/>
<line x1="319.0" y1="268.3" x2="319.0" y2="337.2" stroke="#2f3f8a" stroke-width="1.3" opacity=".8"/>
<line x1="295.6" y1="351.3" x2="314.5" y2="340.7" stroke="#39409a" stroke-width="1.7" opacity=".9"/>
<line x1="295.6" y1="353.1" x2="314.5" y2="342.5" stroke="#86b2ea" stroke-width="1.1" opacity=".75"/>
<line x1="295.6" y1="355.0" x2="314.5" y2="344.4" stroke="#39409a" stroke-width="1.7" opacity=".9"/>
<line x1="295.6" y1="356.8" x2="314.5" y2="346.2" stroke="#86b2ea" stroke-width="1.1" opacity=".75"/>
<line x1="295.6" y1="358.7" x2="314.5" y2="348.1" stroke="#39409a" stroke-width="1.7" opacity=".9"/>
<line x1="295.6" y1="360.5" x2="314.5" y2="349.9" stroke="#86b2ea" stroke-width="1.1" opacity=".75"/>
<line x1="295.6" y1="362.4" x2="314.5" y2="351.8" stroke="#39409a" stroke-width="1.7" opacity=".9"/>
<line x1="295.6" y1="364.2" x2="314.5" y2="353.6" stroke="#86b2ea" stroke-width="1.1" opacity=".75"/>
<polygon points="246.9,260.8 243.5,200.0 320.0,243.5 309.1,259.7 280.0,276.0" fill="url(#gGlow)" />
<polygon points="254.1,260.6 276.4,248.2 301.9,259.9 279.6,272.3" fill="#f07a5a" opacity=".35"/>
<polygon points="242.6,175.5 320.4,218.4 320.4,244.9 242.6,201.5" fill="#c93a40" stroke="#e8787a" stroke-width="2.2" stroke-linejoin="round"/>
<polygon points="245.6,180.3 317.4,221.2 317.4,241.9 245.6,197.5" fill="none" stroke="#a82830" stroke-width="1" />
<text transform="matrix(1 0.551 0 1 249.5 199.5)" font-family="Liberation Sans, Arial, sans-serif" font-weight="700" font-size="18" fill="#fff" stroke="#fff" stroke-width=".4" textLength="64" lengthAdjust="spacingAndGlyphs">OVERLOAD!</text>
<line x1="231" y1="168" x2="237" y2="176" stroke="#e8585c" stroke-width="2.2" stroke-linecap="round"/>
<line x1="227.5" y1="180" x2="236.5" y2="184" stroke="#e8585c" stroke-width="2.2" stroke-linecap="round"/>
<line x1="229" y1="198" x2="237.5" y2="194" stroke="#e8585c" stroke-width="2.2" stroke-linecap="round"/>
<line x1="326" y1="223" x2="333" y2="219" stroke="#e8585c" stroke-width="2.2" stroke-linecap="round"/>
<line x1="327.5" y1="233" x2="336" y2="237" stroke="#e8585c" stroke-width="2.2" stroke-linecap="round"/>
<line x1="325" y1="242" x2="331" y2="250" stroke="#e8585c" stroke-width="2.2" stroke-linecap="round"/>
<path d="M293.8 278.0 C 295.1 286.1 302.3 291.0 302.3 296.5 A 8.5 8.5 0 0 1 285.3 296.5 C 285.3 291.0 292.5 286.1 293.8 278.0 Z" fill="url(#gDrop)" stroke="#c4e6ff" stroke-width=".8"/>
<ellipse cx="290.8" cy="294.8" rx="1.9" ry="3.4" fill="#d8f0ff" opacity=".7"/>
<path d="M279.4 303.0 C 280.4 309.3 286.1 313.1 286.1 317.2 A 6.8 6.8 0 0 1 272.6 317.2 C 272.6 313.1 278.4 309.3 279.4 303.0 Z" fill="url(#gDrop)" stroke="#c4e6ff" stroke-width=".8"/>
<ellipse cx="277.0" cy="315.9" rx="1.5" ry="2.7" fill="#d8f0ff" opacity=".7"/>
<polygon points="30.0,493.0 68.0,513.0 260.5,395.3 222.5,375.3" fill="#142058" opacity=".35"/>
<polygon points="220.5,348.3 257.5,366.8 257.5,361.8 222.5,342.3" fill="#e08a22" />
<polygon points="226.8,335.5 256.8,349.3 256.8,379.3 226.8,365.5" fill="#ffffff" />
<polygon points="224.8,334.3 254.8,348.1 254.8,378.1 224.8,364.3" fill="#e9eff9" />
<polygon points="227.8,339.2 250.8,349.8 250.8,353.2 227.8,342.6" fill="#5a3f98" />
<line x1="227.8" y1="346.2" x2="250.8" y2="356.8" stroke="#9fb4d6" stroke-width="1"/>
<line x1="227.8" y1="349.7" x2="250.8" y2="360.3" stroke="#9fb4d6" stroke-width="1"/>
<line x1="227.8" y1="353.2" x2="250.8" y2="363.8" stroke="#9fb4d6" stroke-width="1"/>
<line x1="227.8" y1="356.7" x2="250.8" y2="367.3" stroke="#9fb4d6" stroke-width="1"/>
<line x1="227.8" y1="360.2" x2="250.8" y2="370.8" stroke="#9fb4d6" stroke-width="1"/>
<polygon points="220.5,348.3 238.6,370.6 257.5,366.8 257.5,393.3 220.5,374.8" fill="#f6a032" />
<polygon points="220.5,348.3 238.6,370.6 220.5,374.8" fill="#f8ad45" />
<polygon points="257.5,366.8 238.6,370.6 257.5,393.3" fill="#ee9226" />
<polygon points="220.5,374.8 238.6,370.6 257.5,393.3" fill="#f49a2c" />
<polyline points="220.5,348.3 238.6,370.6 257.5,366.8" fill="none" stroke="#ffc46a" stroke-width="1"/>
<polyline points="220.5,374.8 238.6,370.6 257.5,393.3" fill="none" stroke="#e58a20" stroke-width=".8"/>
<polygon points="257.5,366.8 259.1,365.8 259.1,392.3 257.5,393.3" fill="#d97a18" />
<polygon points="208.7,355.6 245.7,374.1 245.7,369.1 210.7,349.6" fill="#e08a22" />
<polygon points="215.0,342.8 245.0,356.6 245.0,386.6 215.0,372.8" fill="#ffffff" />
<polygon points="213.0,341.6 243.0,355.4 243.0,385.4 213.0,371.6" fill="#e9eff9" />
<polygon points="216.0,346.5 239.0,357.1 239.0,360.5 216.0,349.9" fill="#5a3f98" />
<line x1="216.0" y1="353.5" x2="239.0" y2="364.1" stroke="#9fb4d6" stroke-width="1"/>
<line x1="216.0" y1="357.0" x2="239.0" y2="367.6" stroke="#9fb4d6" stroke-width="1"/>
<line x1="216.0" y1="360.5" x2="239.0" y2="371.1" stroke="#9fb4d6" stroke-width="1"/>
<line x1="216.0" y1="364.0" x2="239.0" y2="374.6" stroke="#9fb4d6" stroke-width="1"/>
<line x1="216.0" y1="367.5" x2="239.0" y2="378.1" stroke="#9fb4d6" stroke-width="1"/>
<polygon points="208.7,355.6 226.8,377.9 245.7,374.1 245.7,400.6 208.7,382.1" fill="#f6a032" />
<polygon points="208.7,355.6 226.8,377.9 208.7,382.1" fill="#f8ad45" />
<polygon points="245.7,374.1 226.8,377.9 245.7,400.6" fill="#ee9226" />
<polygon points="208.7,382.1 226.8,377.9 245.7,400.6" fill="#f49a2c" />
<polyline points="208.7,355.6 226.8,377.9 245.7,374.1" fill="none" stroke="#ffc46a" stroke-width="1"/>
<polyline points="208.7,382.1 226.8,377.9 245.7,400.6" fill="none" stroke="#e58a20" stroke-width=".8"/>
<polygon points="245.7,374.1 247.2,373.1 247.2,399.6 245.7,400.6" fill="#d97a18" />
<polygon points="196.4,363.2 233.4,381.7 233.4,376.7 198.4,357.2" fill="#e08a22" />
<polygon points="202.7,350.4 232.7,364.2 232.7,394.2 202.7,380.4" fill="#ffffff" />
<polygon points="200.7,349.2 230.7,363.0 230.7,393.0 200.7,379.2" fill="#e9eff9" />
<polygon points="203.7,354.1 226.7,364.6 226.7,368.0 203.7,357.5" fill="#5a3f98" />
<line x1="203.7" y1="361.1" x2="226.7" y2="371.6" stroke="#9fb4d6" stroke-width="1"/>
<line x1="203.7" y1="364.6" x2="226.7" y2="375.1" stroke="#9fb4d6" stroke-width="1"/>
<line x1="203.7" y1="368.1" x2="226.7" y2="378.6" stroke="#9fb4d6" stroke-width="1"/>
<line x1="203.7" y1="371.6" x2="226.7" y2="382.1" stroke="#9fb4d6" stroke-width="1"/>
<line x1="203.7" y1="375.1" x2="226.7" y2="385.6" stroke="#9fb4d6" stroke-width="1"/>
<polygon points="196.4,363.2 214.5,385.5 233.4,381.7 233.4,408.2 196.4,389.7" fill="#f6a032" />
<polygon points="196.4,363.2 214.5,385.5 196.4,389.7" fill="#f8ad45" />
<polygon points="233.4,381.7 214.5,385.5 233.4,408.2" fill="#ee9226" />
<polygon points="196.4,389.7 214.5,385.5 233.4,408.2" fill="#f49a2c" />
<polyline points="196.4,363.2 214.5,385.5 233.4,381.7" fill="none" stroke="#ffc46a" stroke-width="1"/>
<polyline points="196.4,389.7 214.5,385.5 233.4,408.2" fill="none" stroke="#e58a20" stroke-width=".8"/>
<polygon points="233.4,381.7 235.0,380.7 235.0,407.2 233.4,408.2" fill="#d97a18" />
<polygon points="183.6,371.1 220.6,389.6 220.6,384.6 185.6,365.1" fill="#e08a22" />
<polygon points="189.9,358.3 219.9,372.1 219.9,402.1 189.9,388.3" fill="#ffffff" />
<polygon points="187.9,357.1 217.9,370.9 217.9,400.9 187.9,387.1" fill="#e9eff9" />
<polygon points="190.9,361.9 213.9,372.5 213.9,375.9 190.9,365.3" fill="#5a3f98" />
<line x1="190.9" y1="368.9" x2="213.9" y2="379.5" stroke="#9fb4d6" stroke-width="1"/>
<line x1="190.9" y1="372.4" x2="213.9" y2="383.0" stroke="#9fb4d6" stroke-width="1"/>
<line x1="190.9" y1="375.9" x2="213.9" y2="386.5" stroke="#9fb4d6" stroke-width="1"/>
<line x1="190.9" y1="379.4" x2="213.9" y2="390.0" stroke="#9fb4d6" stroke-width="1"/>
<line x1="190.9" y1="382.9" x2="213.9" y2="393.5" stroke="#9fb4d6" stroke-width="1"/>
<polygon points="183.6,371.1 201.8,393.4 220.6,389.6 220.6,416.1 183.6,397.6" fill="#f6a032" />
<polygon points="183.6,371.1 201.8,393.4 183.6,397.6" fill="#f8ad45" />
<polygon points="220.6,389.6 201.8,393.4 220.6,416.1" fill="#ee9226" />
<polygon points="183.6,397.6 201.8,393.4 220.6,416.1" fill="#f49a2c" />
<polyline points="183.6,371.1 201.8,393.4 220.6,389.6" fill="none" stroke="#ffc46a" stroke-width="1"/>
<polyline points="183.6,397.6 201.8,393.4 220.6,416.1" fill="none" stroke="#e58a20" stroke-width=".8"/>
<polygon points="220.6,389.6 222.2,388.6 222.2,415.1 220.6,416.1" fill="#d97a18" />
<polygon points="170.4,379.2 207.4,397.7 207.4,392.7 172.4,373.2" fill="#e08a22" />
<polygon points="176.7,366.4 206.7,380.2 206.7,410.2 176.7,396.4" fill="#ffffff" />
<polygon points="174.7,365.2 204.7,379.0 204.7,409.0 174.7,395.2" fill="#e9eff9" />
<polygon points="177.7,370.1 200.7,380.7 200.7,384.1 177.7,373.5" fill="#5a3f98" />
<line x1="177.7" y1="377.1" x2="200.7" y2="387.7" stroke="#9fb4d6" stroke-width="1"/>
<line x1="177.7" y1="380.6" x2="200.7" y2="391.2" stroke="#9fb4d6" stroke-width="1"/>
<line x1="177.7" y1="384.1" x2="200.7" y2="394.7" stroke="#9fb4d6" stroke-width="1"/>
<line x1="177.7" y1="387.6" x2="200.7" y2="398.2" stroke="#9fb4d6" stroke-width="1"/>
<line x1="177.7" y1="391.1" x2="200.7" y2="401.7" stroke="#9fb4d6" stroke-width="1"/>
<polygon points="170.4,379.2 188.5,401.5 207.4,397.7 207.4,424.2 170.4,405.7" fill="#f6a032" />
<polygon points="170.4,379.2 188.5,401.5 170.4,405.7" fill="#f8ad45" />
<polygon points="207.4,397.7 188.5,401.5 207.4,424.2" fill="#ee9226" />
<polygon points="170.4,405.7 188.5,401.5 207.4,424.2" fill="#f49a2c" />
<polyline points="170.4,379.2 188.5,401.5 207.4,397.7" fill="none" stroke="#ffc46a" stroke-width="1"/>
<polyline points="170.4,405.7 188.5,401.5 207.4,424.2" fill="none" stroke="#e58a20" stroke-width=".8"/>
<polygon points="207.4,397.7 209.0,396.7 209.0,423.2 207.4,424.2" fill="#d97a18" />
<polygon points="156.7,387.7 193.7,406.2 193.7,401.2 158.7,381.7" fill="#e08a22" />
<polygon points="163.0,374.9 193.0,388.7 193.0,418.7 163.0,404.9" fill="#ffffff" />
<polygon points="161.0,373.7 191.0,387.5 191.0,417.5 161.0,403.7" fill="#e9eff9" />
<polygon points="164.0,378.6 187.0,389.2 187.0,392.6 164.0,382.0" fill="#5a3f98" />
<line x1="164.0" y1="385.6" x2="187.0" y2="396.2" stroke="#9fb4d6" stroke-width="1"/>
<line x1="164.0" y1="389.1" x2="187.0" y2="399.7" stroke="#9fb4d6" stroke-width="1"/>
<line x1="164.0" y1="392.6" x2="187.0" y2="403.2" stroke="#9fb4d6" stroke-width="1"/>
<line x1="164.0" y1="396.1" x2="187.0" y2="406.7" stroke="#9fb4d6" stroke-width="1"/>
<line x1="164.0" y1="399.6" x2="187.0" y2="410.2" stroke="#9fb4d6" stroke-width="1"/>
<polygon points="156.7,387.7 174.8,410.0 193.7,406.2 193.7,432.7 156.7,414.2" fill="#f6a032" />
<polygon points="156.7,387.7 174.8,410.0 156.7,414.2" fill="#f8ad45" />
<polygon points="193.7,406.2 174.8,410.0 193.7,432.7" fill="#ee9226" />
<polygon points="156.7,414.2 174.8,410.0 193.7,432.7" fill="#f49a2c" />
<polyline points="156.7,387.7 174.8,410.0 193.7,406.2" fill="none" stroke="#ffc46a" stroke-width="1"/>
<polyline points="156.7,414.2 174.8,410.0 193.7,432.7" fill="none" stroke="#e58a20" stroke-width=".8"/>
<polygon points="193.7,406.2 195.3,405.2 195.3,431.7 193.7,432.7" fill="#d97a18" />
<polygon points="142.5,396.5 179.5,415.0 179.5,410.0 144.5,390.5" fill="#e08a22" />
<polygon points="148.8,383.7 178.8,397.5 178.8,427.5 148.8,413.7" fill="#ffffff" />
<polygon points="146.8,382.5 176.8,396.3 176.8,426.3 146.8,412.5" fill="#e9eff9" />
<polygon points="149.8,387.3 172.8,397.9 172.8,401.3 149.8,390.7" fill="#5a3f98" />
<line x1="149.8" y1="394.3" x2="172.8" y2="404.9" stroke="#9fb4d6" stroke-width="1"/>
<line x1="149.8" y1="397.8" x2="172.8" y2="408.4" stroke="#9fb4d6" stroke-width="1"/>
<line x1="149.8" y1="401.3" x2="172.8" y2="411.9" stroke="#9fb4d6" stroke-width="1"/>
<line x1="149.8" y1="404.8" x2="172.8" y2="415.4" stroke="#9fb4d6" stroke-width="1"/>
<line x1="149.8" y1="408.3" x2="172.8" y2="418.9" stroke="#9fb4d6" stroke-width="1"/>
<polygon points="142.5,396.5 160.7,418.8 179.5,415.0 179.5,441.5 142.5,423.0" fill="#f6a032" />
<polygon points="142.5,396.5 160.7,418.8 142.5,423.0" fill="#f8ad45" />
<polygon points="179.5,415.0 160.7,418.8 179.5,441.5" fill="#ee9226" />
<polygon points="142.5,423.0 160.7,418.8 179.5,441.5" fill="#f49a2c" />
<polyline points="142.5,396.5 160.7,418.8 179.5,415.0" fill="none" stroke="#ffc46a" stroke-width="1"/>
<polyline points="142.5,423.0 160.7,418.8 179.5,441.5" fill="none" stroke="#e58a20" stroke-width=".8"/>
<polygon points="179.5,415.0 181.1,414.0 181.1,440.5 179.5,441.5" fill="#d97a18" />
<polygon points="127.9,405.5 164.9,424.0 164.9,419.0 129.9,399.5" fill="#e08a22" />
<polygon points="134.2,392.7 164.2,406.5 164.2,436.5 134.2,422.7" fill="#ffffff" />
<polygon points="132.2,391.5 162.2,405.3 162.2,435.3 132.2,421.5" fill="#e9eff9" />
<polygon points="135.2,396.4 158.2,407.0 158.2,410.4 135.2,399.8" fill="#5a3f98" />
<line x1="135.2" y1="403.4" x2="158.2" y2="414.0" stroke="#9fb4d6" stroke-width="1"/>
<line x1="135.2" y1="406.9" x2="158.2" y2="417.5" stroke="#9fb4d6" stroke-width="1"/>
<line x1="135.2" y1="410.4" x2="158.2" y2="421.0" stroke="#9fb4d6" stroke-width="1"/>
<line x1="135.2" y1="413.9" x2="158.2" y2="424.5" stroke="#9fb4d6" stroke-width="1"/>
<line x1="135.2" y1="417.4" x2="158.2" y2="428.0" stroke="#9fb4d6" stroke-width="1"/>
<polygon points="127.9,405.5 146.0,427.8 164.9,424.0 164.9,450.5 127.9,432.0" fill="#f6a032" />
<polygon points="127.9,405.5 146.0,427.8 127.9,432.0" fill="#f8ad45" />
<polygon points="164.9,424.0 146.0,427.8 164.9,450.5" fill="#ee9226" />
<polygon points="127.9,432.0 146.0,427.8 164.9,450.5" fill="#f49a2c" />
<polyline points="127.9,405.5 146.0,427.8 164.9,424.0" fill="none" stroke="#ffc46a" stroke-width="1"/>
<polyline points="127.9,432.0 146.0,427.8 164.9,450.5" fill="none" stroke="#e58a20" stroke-width=".8"/>
<polygon points="164.9,424.0 166.5,423.0 166.5,449.5 164.9,450.5" fill="#d97a18" />
<polygon points="112.8,414.9 149.8,433.4 149.8,428.4 114.8,408.9" fill="#e08a22" />
<polygon points="119.0,402.1 149.1,415.9 149.1,445.9 119.0,432.1" fill="#ffffff" />
<polygon points="117.0,400.9 147.1,414.7 147.1,444.7 117.0,430.9" fill="#e9eff9" />
<polygon points="120.0,405.7 143.1,416.3 143.1,419.7 120.0,409.1" fill="#5a3f98" />
<line x1="120.0" y1="412.7" x2="143.1" y2="423.3" stroke="#9fb4d6" stroke-width="1"/>
<line x1="120.0" y1="416.2" x2="143.1" y2="426.8" stroke="#9fb4d6" stroke-width="1"/>
<line x1="120.0" y1="419.7" x2="143.1" y2="430.3" stroke="#9fb4d6" stroke-width="1"/>
<line x1="120.0" y1="423.2" x2="143.1" y2="433.8" stroke="#9fb4d6" stroke-width="1"/>
<line x1="120.0" y1="426.7" x2="143.1" y2="437.3" stroke="#9fb4d6" stroke-width="1"/>
<polygon points="112.8,414.9 130.9,437.2 149.8,433.4 149.8,459.9 112.8,441.4" fill="#f6a032" />
<polygon points="112.8,414.9 130.9,437.2 112.8,441.4" fill="#f8ad45" />
<polygon points="149.8,433.4 130.9,437.2 149.8,459.9" fill="#ee9226" />
<polygon points="112.8,441.4 130.9,437.2 149.8,459.9" fill="#f49a2c" />
<polyline points="112.8,414.9 130.9,437.2 149.8,433.4" fill="none" stroke="#ffc46a" stroke-width="1"/>
<polyline points="112.8,441.4 130.9,437.2 149.8,459.9" fill="none" stroke="#e58a20" stroke-width=".8"/>
<polygon points="149.8,433.4 151.3,432.4 151.3,458.9 149.8,459.9" fill="#d97a18" />
<polygon points="97.2,424.5 134.2,443.0 134.2,438.0 99.2,418.5" fill="#e08a22" />
<polygon points="103.5,411.7 133.4,425.5 133.4,455.5 103.5,441.7" fill="#ffffff" />
<polygon points="101.5,410.5 131.4,424.3 131.4,454.3 101.5,440.5" fill="#e9eff9" />
<polygon points="104.5,415.4 127.5,426.0 127.5,429.4 104.5,418.8" fill="#5a3f98" />
<line x1="104.5" y1="422.4" x2="127.4" y2="433.0" stroke="#9fb4d6" stroke-width="1"/>
<line x1="104.5" y1="425.9" x2="127.4" y2="436.5" stroke="#9fb4d6" stroke-width="1"/>
<line x1="104.5" y1="429.4" x2="127.4" y2="440.0" stroke="#9fb4d6" stroke-width="1"/>
<line x1="104.5" y1="432.9" x2="127.4" y2="443.5" stroke="#9fb4d6" stroke-width="1"/>
<line x1="104.5" y1="436.4" x2="127.4" y2="447.0" stroke="#9fb4d6" stroke-width="1"/>
<polygon points="97.2,424.5 115.3,446.8 134.2,443.0 134.2,469.5 97.2,451.0" fill="#f6a032" />
<polygon points="97.2,424.5 115.3,446.8 97.2,451.0" fill="#f8ad45" />
<polygon points="134.2,443.0 115.3,446.8 134.2,469.5" fill="#ee9226" />
<polygon points="97.2,451.0 115.3,446.8 134.2,469.5" fill="#f49a2c" />
<polyline points="97.2,424.5 115.3,446.8 134.2,443.0" fill="none" stroke="#ffc46a" stroke-width="1"/>
<polyline points="97.2,451.0 115.3,446.8 134.2,469.5" fill="none" stroke="#e58a20" stroke-width=".8"/>
<polygon points="134.2,443.0 135.8,442.0 135.8,468.5 134.2,469.5" fill="#d97a18" />
<polygon points="81.1,434.4 118.1,452.9 118.1,447.9 83.1,428.4" fill="#e08a22" />
<polygon points="87.4,421.6 117.4,435.4 117.4,465.4 87.4,451.6" fill="#ffffff" />
<polygon points="85.4,420.4 115.4,434.2 115.4,464.2 85.4,450.4" fill="#e9eff9" />
<polygon points="88.4,425.3 111.4,435.9 111.4,439.3 88.4,428.7" fill="#5a3f98" />
<line x1="88.4" y1="432.3" x2="111.4" y2="442.9" stroke="#9fb4d6" stroke-width="1"/>
<line x1="88.4" y1="435.8" x2="111.4" y2="446.4" stroke="#9fb4d6" stroke-width="1"/>
<line x1="88.4" y1="439.3" x2="111.4" y2="449.9" stroke="#9fb4d6" stroke-width="1"/>
<line x1="88.4" y1="442.8" x2="111.4" y2="453.4" stroke="#9fb4d6" stroke-width="1"/>
<line x1="88.4" y1="446.3" x2="111.4" y2="456.9" stroke="#9fb4d6" stroke-width="1"/>
<polygon points="81.1,434.4 99.2,456.8 118.1,452.9 118.1,479.4 81.1,460.9" fill="#f6a032" />
<polygon points="81.1,434.4 99.2,456.8 81.1,460.9" fill="#f8ad45" />
<polygon points="118.1,452.9 99.2,456.8 118.1,479.4" fill="#ee9226" />
<polygon points="81.1,460.9 99.2,456.8 118.1,479.4" fill="#f49a2c" />
<polyline points="81.1,434.4 99.2,456.8 118.1,452.9" fill="none" stroke="#ffc46a" stroke-width="1"/>
<polyline points="81.1,460.9 99.2,456.8 118.1,479.4" fill="none" stroke="#e58a20" stroke-width=".8"/>
<polygon points="118.1,452.9 119.7,451.9 119.7,478.4 118.1,479.4" fill="#d97a18" />
<polygon points="64.5,444.7 101.5,463.2 101.5,458.2 66.5,438.7" fill="#e08a22" />
<polygon points="70.8,431.9 100.8,445.7 100.8,475.7 70.8,461.9" fill="#ffffff" />
<polygon points="68.8,430.7 98.8,444.5 98.8,474.5 68.8,460.7" fill="#e9eff9" />
<polygon points="71.8,435.5 94.8,446.1 94.8,449.5 71.8,438.9" fill="#5a3f98" />
<line x1="71.8" y1="442.5" x2="94.8" y2="453.1" stroke="#9fb4d6" stroke-width="1"/>
<line x1="71.8" y1="446.0" x2="94.8" y2="456.6" stroke="#9fb4d6" stroke-width="1"/>
<line x1="71.8" y1="449.5" x2="94.8" y2="460.1" stroke="#9fb4d6" stroke-width="1"/>
<line x1="71.8" y1="453.0" x2="94.8" y2="463.6" stroke="#9fb4d6" stroke-width="1"/>
<line x1="71.8" y1="456.5" x2="94.8" y2="467.1" stroke="#9fb4d6" stroke-width="1"/>
<polygon points="64.5,444.7 82.7,467.0 101.5,463.2 101.5,489.7 64.5,471.2" fill="#f6a032" />
<polygon points="64.5,444.7 82.7,467.0 64.5,471.2" fill="#f8ad45" />
<polygon points="101.5,463.2 82.7,467.0 101.5,489.7" fill="#ee9226" />
<polygon points="64.5,471.2 82.7,467.0 101.5,489.7" fill="#f49a2c" />
<polyline points="64.5,444.7 82.7,467.0 101.5,463.2" fill="none" stroke="#ffc46a" stroke-width="1"/>
<polyline points="64.5,471.2 82.7,467.0 101.5,489.7" fill="none" stroke="#e58a20" stroke-width=".8"/>
<polygon points="101.5,463.2 103.1,462.2 103.1,488.7 101.5,489.7" fill="#d97a18" />
<polygon points="47.5,455.2 84.5,473.7 84.5,468.7 49.5,449.2" fill="#e08a22" />
<polygon points="53.8,442.4 83.8,456.2 83.8,486.2 53.8,472.4" fill="#ffffff" />
<polygon points="51.8,441.2 81.8,455.0 81.8,485.0 51.8,471.2" fill="#e9eff9" />
<polygon points="54.8,446.1 77.8,456.6 77.8,460.0 54.8,449.5" fill="#5a3f98" />
<line x1="54.8" y1="453.1" x2="77.8" y2="463.6" stroke="#9fb4d6" stroke-width="1"/>
<line x1="54.8" y1="456.6" x2="77.8" y2="467.1" stroke="#9fb4d6" stroke-width="1"/>
<line x1="54.8" y1="460.1" x2="77.8" y2="470.6" stroke="#9fb4d6" stroke-width="1"/>
<line x1="54.8" y1="463.6" x2="77.8" y2="474.1" stroke="#9fb4d6" stroke-width="1"/>
<line x1="54.8" y1="467.1" x2="77.8" y2="477.6" stroke="#9fb4d6" stroke-width="1"/>
<polygon points="47.5,455.2 65.6,477.5 84.5,473.7 84.5,500.2 47.5,481.7" fill="#f6a032" />
<polygon points="47.5,455.2 65.6,477.5 47.5,481.7" fill="#f8ad45" />
<polygon points="84.5,473.7 65.6,477.5 84.5,500.2" fill="#ee9226" />
<polygon points="47.5,481.7 65.6,477.5 84.5,500.2" fill="#f49a2c" />
<polyline points="47.5,455.2 65.6,477.5 84.5,473.7" fill="none" stroke="#ffc46a" stroke-width="1"/>
<polyline points="47.5,481.7 65.6,477.5 84.5,500.2" fill="none" stroke="#e58a20" stroke-width=".8"/>
<polygon points="84.5,473.7 86.1,472.7 86.1,499.2 84.5,500.2" fill="#d97a18" />
<polygon points="30.0,466.0 67.0,484.5 67.0,479.5 32.0,460.0" fill="#e08a22" />
<polygon points="36.3,453.2 66.3,467.0 66.3,497.0 36.3,483.2" fill="#ffffff" />
<polygon points="34.3,452.0 64.3,465.8 64.3,495.8 34.3,482.0" fill="#e9eff9" />
<polygon points="37.3,456.9 60.3,467.5 60.3,470.9 37.3,460.3" fill="#5a3f98" />
<line x1="37.3" y1="463.9" x2="60.3" y2="474.5" stroke="#9fb4d6" stroke-width="1"/>
<line x1="37.3" y1="467.4" x2="60.3" y2="478.0" stroke="#9fb4d6" stroke-width="1"/>
<line x1="37.3" y1="470.9" x2="60.3" y2="481.5" stroke="#9fb4d6" stroke-width="1"/>
<line x1="37.3" y1="474.4" x2="60.3" y2="485.0" stroke="#9fb4d6" stroke-width="1"/>
<line x1="37.3" y1="477.9" x2="60.3" y2="488.5" stroke="#9fb4d6" stroke-width="1"/>
<polygon points="30.0,466.0 48.1,488.3 67.0,484.5 67.0,511.0 30.0,492.5" fill="#f6a032" />
<polygon points="30.0,466.0 48.1,488.3 30.0,492.5" fill="#f8ad45" />
<polygon points="67.0,484.5 48.1,488.3 67.0,511.0" fill="#ee9226" />
<polygon points="30.0,492.5 48.1,488.3 67.0,511.0" fill="#f49a2c" />
<polyline points="30.0,466.0 48.1,488.3 67.0,484.5" fill="none" stroke="#ffc46a" stroke-width="1"/>
<polyline points="30.0,492.5 48.1,488.3 67.0,511.0" fill="none" stroke="#e58a20" stroke-width=".8"/>
<polygon points="67.0,484.5 68.6,483.5 68.6,510.0 67.0,511.0" fill="#d97a18" />
<linearGradient id="gArrBL" gradientUnits="userSpaceOnUse" x1="0" y1="531" x2="41" y2="506"><stop offset="0" stop-color="#2f7cc6"/><stop offset="1" stop-color="#45aee4"/></linearGradient>
<polygon points="-2.0,527.0 21.5,513.6 16.8,509.6 41.0,506.4 36.3,521.5 26.2,520.4 -2.0,537.5" fill="url(#gArrBL)" />
<polygon points="301.0,342.0 288.0,392.0 310.0,380.0" fill="#3a3590" opacity=".5"/>
<polygon points="310.5,338.0 289.5,403.5 342.0,375.5" fill="#b4242c" stroke="#b4242c" stroke-width="7" stroke-linejoin="round"/>
<polygon points="313.5,337.5 292.5,403.0 343.0,374.2" fill="#e2363c" stroke="#e2363c" stroke-width="7" stroke-linejoin="round"/>
<polygon points="314.8,346.5 297.0,397.5 337.0,373.8" fill="#f6ecee" stroke="#f6ecee" stroke-width="1.5" stroke-linejoin="round"/>
<text transform="matrix(1 -0.42 0 1 309.8 387.5)" font-family="Liberation Sans, Arial, sans-serif" font-weight="700" font-size="40" fill="#d8323a">!</text>
<line x1="337" y1="331.6" x2="333.5" y2="342.4" stroke="#e0606a" stroke-width="2.2" stroke-linecap="round"/>
<line x1="347.8" y1="336" x2="339.8" y2="346" stroke="#e0606a" stroke-width="2.2" stroke-linecap="round"/>
<line x1="352.6" y1="347.2" x2="342.5" y2="352.2" stroke="#e0606a" stroke-width="2.2" stroke-linecap="round"/>
<polygon points="850.0,239.5 1024.0,135.0 1024.0,167.0 850.0,277.0" fill="url(#gBeamR)" />
<polygon points="850.0,239.5 1024.0,135.0 1024.0,138.0 850.0,242.5" fill="#6cc0f0" opacity=".55"/>
<linearGradient id="ga588" gradientUnits="userSpaceOnUse" x1="927.7" y1="180.9" x2="961.7" y2="162.2"><stop offset="0" stop-color="#62d2f2" stop-opacity="0"/><stop offset=".75" stop-color="#62d2f2" stop-opacity="1"/></linearGradient>
<polygon points="927.7,180.9 953.1,169.3 955.0,172.8 961.7,162.2 949.1,162.2 951.0,165.7" fill="url(#ga588)" />
<linearGradient id="ga590" gradientUnits="userSpaceOnUse" x1="972.5" y1="182.7" x2="1005.4" y2="163.7"><stop offset="0" stop-color="#62d2f2" stop-opacity="0"/><stop offset=".75" stop-color="#62d2f2" stop-opacity="1"/></linearGradient>
<polygon points="972.5,182.7 996.9,171.0 998.9,174.4 1005.4,163.7 992.8,164.0 994.8,167.4" fill="url(#ga590)" />
<linearGradient id="ga592" gradientUnits="userSpaceOnUse" x1="902.7" y1="223.8" x2="934.9" y2="206.0"><stop offset="0" stop-color="#62d2f2" stop-opacity="0"/><stop offset=".75" stop-color="#62d2f2" stop-opacity="1"/></linearGradient>
<polygon points="902.7,223.8 926.3,213.2 928.2,216.6 934.9,206.0 922.3,206.0 924.3,209.5" fill="url(#ga592)" />
<linearGradient id="ga594" gradientUnits="userSpaceOnUse" x1="949.2" y1="223.8" x2="984.0" y2="204.0"><stop offset="0" stop-color="#62d2f2" stop-opacity="0"/><stop offset=".75" stop-color="#62d2f2" stop-opacity="1"/></linearGradient>
<polygon points="949.2,223.8 975.5,211.3 977.4,214.7 984.0,204.0 971.4,204.2 973.4,207.6" fill="url(#ga594)" />
<linearGradient id="gHolo" gradientUnits="userSpaceOnUse" x1="0" y1="284" x2="0" y2="410"><stop offset="0" stop-color="#3a7fe0" stop-opacity="0"/><stop offset=".25" stop-color="#3f86e6" stop-opacity=".22"/><stop offset="1" stop-color="#4a9af0" stop-opacity=".5"/></linearGradient>
<polygon points="645.0,284.0 793.0,284.0 793.0,400.0 740.0,424.0 645.0,366.0" fill="url(#gHolo)" />
<path d="M714.1 273.4 L754.4 248.6 Q759.5 245.5 764.7 248.5 L804.3 272.0 Q809.5 275.0 804.4 278.1 L765.1 302.4 Q760.0 305.5 754.8 302.5 L714.2 279.5 Q709.0 276.5 714.1 273.4 Z" fill="none" stroke="#56b2fa" stroke-width="1.6" opacity="1"/>
<path d="M794.1 318.9 L834.4 294.1 Q839.5 291.0 844.7 294.0 L884.3 317.5 Q889.5 320.5 884.4 323.6 L845.1 347.9 Q840.0 351.0 834.8 348.0 L794.2 325.0 Q789.0 322.0 794.1 318.9 Z" fill="none" stroke="#56b2fa" stroke-width="1.6" opacity="1"/>
<path d="M874.1 364.4 L914.4 339.6 Q919.5 336.5 924.7 339.5 L964.3 363.0 Q969.5 366.0 964.4 369.1 L925.1 393.4 Q920.0 396.5 914.8 393.5 L874.2 370.5 Q869.0 367.5 874.1 364.4 Z" fill="none" stroke="#56b2fa" stroke-width="1.6" opacity="1"/>
<path d="M737.0 290.0 L715.5 302.5 Q712.0 304.5 712.0 308.5 L712.0 309.0 Q712.0 313.0 715.5 314.9 L763.5 341.5 Q767.0 343.4 763.6 345.5 L743.0 358.0" fill="none" stroke="#56b2fa" stroke-width="1.6" opacity="1"/>
<path d="M757.3 367.5 L789.1 349.1 Q790.0 348.6 790.9 348.1 L811.0 336.2" fill="none" stroke="#56b2fa" stroke-width="1.6" opacity="1"/>
<path d="M773.4 377.2 L791.7 365.9 Q796.0 363.3 800.5 365.5 L855.8 392.8 Q860.3 395.0 864.8 392.9 L891.0 380.4" fill="none" stroke="#56b2fa" stroke-width="1.6" opacity="1"/>
<path d="M646.1 380.6 L683.9 359.4 Q690.0 356.0 696.0 359.5 L788.0 413.5 Q794.0 417.0 787.9 420.4 L748.1 442.6 Q742.0 446.0 736.0 442.4 L646.0 387.6 Q640.0 384.0 646.1 380.6 Z" fill="none" stroke="#56b2fa" stroke-width="1.6" opacity="1"/>
<polygon points="704.4,328.1 716.8,320.5 731.6,328.9 719.2,336.5" fill="#a9bcdc" />
<polygon points="704.4,325.9 716.8,318.3 731.6,326.7 719.2,334.3" fill="#e6eefa" />
<polygon points="716.8,318.3 731.6,326.7 718.6,325.9" fill="#f6f9fe" />
<polyline points="716.8,318.3 718.6,325.9 731.6,326.7" fill="none" stroke="#b4c6e2" stroke-width=".9"/>
<polyline points="704.4,325.9 715.8,326.2" fill="none" stroke="#b4c6e2" stroke-width=".6" opacity=".7"/>
<polyline points="719.2,334.3 718.2,327.6" fill="none" stroke="#b4c6e2" stroke-width=".6" opacity=".7"/>
<polygon points="725.4,339.7 737.8,332.1 752.6,340.5 740.2,348.1" fill="#a9bcdc" />
<polygon points="725.4,337.5 737.8,329.9 752.6,338.3 740.2,345.9" fill="#e6eefa" />
<polygon points="737.8,329.9 752.6,338.3 739.6,337.5" fill="#f6f9fe" />
<polyline points="737.8,329.9 739.6,337.5 752.6,338.3" fill="none" stroke="#b4c6e2" stroke-width=".9"/>
<polyline points="725.4,337.5 736.8,337.8" fill="none" stroke="#b4c6e2" stroke-width=".6" opacity=".7"/>
<polyline points="740.2,345.9 739.2,339.2" fill="none" stroke="#b4c6e2" stroke-width=".6" opacity=".7"/>
<polygon points="797.8,382.2 810.2,374.6 825.0,383.0 812.6,390.6" fill="#a9bcdc" />
<polygon points="797.8,380.0 810.2,372.4 825.0,380.8 812.6,388.4" fill="#e6eefa" />
<polygon points="810.2,372.4 825.0,380.8 812.0,380.0" fill="#f6f9fe" />
<polyline points="810.2,372.4 812.0,380.0 825.0,380.8" fill="none" stroke="#b4c6e2" stroke-width=".9"/>
<polyline points="797.8,380.0 809.2,380.3" fill="none" stroke="#b4c6e2" stroke-width=".6" opacity=".7"/>
<polyline points="812.6,388.4 811.6,381.7" fill="none" stroke="#b4c6e2" stroke-width=".6" opacity=".7"/>
<polygon points="819.4,394.1 831.8,386.5 846.6,394.9 834.2,402.5" fill="#a9bcdc" />
<polygon points="819.4,391.9 831.8,384.3 846.6,392.7 834.2,400.3" fill="#e6eefa" />
<polygon points="831.8,384.3 846.6,392.7 833.6,391.9" fill="#f6f9fe" />
<polyline points="831.8,384.3 833.6,391.9 846.6,392.7" fill="none" stroke="#b4c6e2" stroke-width=".9"/>
<polyline points="819.4,391.9 830.8,392.2" fill="none" stroke="#b4c6e2" stroke-width=".6" opacity=".7"/>
<polyline points="834.2,400.3 833.2,393.6" fill="none" stroke="#b4c6e2" stroke-width=".6" opacity=".7"/>
<polygon points="512.0,487.3 672.0,398.8 745.0,413.3 512.0,541.8" fill="url(#gConvR)" />
<polygon points="512.0,487.3 672.0,398.8 674.0,400.5 512.0,490.0" fill="#7cc6f8" opacity=".5"/>
<polygon points="760.0,202.5 806.5,177.0 806.5,270.5 760.0,296.0" fill="url(#gSrvR2)" stroke="url(#gSrvR2)" stroke-width="3" stroke-linejoin="round"/>
<polygon points="713.0,178.5 760.0,202.5 760.0,296.0 713.0,272.0" fill="url(#gSrvL2)" stroke="url(#gSrvL2)" stroke-width="3" stroke-linejoin="round"/>
<polygon points="713.0,178.5 759.5,153.0 806.5,177.0 760.0,202.5" fill="#a6d2f4" stroke="#a6d2f4" stroke-width="3" stroke-linejoin="round"/>
<polyline points="713.0,178.5 760.0,202.5 806.5,177.0" fill="none" stroke="#cfe8fa" stroke-width="1.6" stroke-linejoin="round" opacity=".9"/>
<line x1="760.0" y1="204.5" x2="760.0" y2="294.0" stroke="#b9dcf8" stroke-width="1.6" opacity=".8"/>
<polygon points="716.5,187.8 756.5,208.2 756.5,292.9 716.5,272.5" fill="#22357a" />
<polygon points="719.5,194.8 754.0,212.4 754.0,225.0 719.5,207.4" fill="#4779b8" />
<rect x="723.0" y="201.9" width="2.4" height="2.4" fill="#b9d48e" opacity=".85"/>
<rect x="726.5" y="203.7" width="2.4" height="2.4" fill="#d8b98a" opacity=".85"/>
<rect x="740.0" y="207.8" width="1.5" height="1.5" fill="#9fd0f6" opacity=".6"/>
<rect x="743.2" y="209.4" width="1.5" height="1.5" fill="#9fd0f6" opacity=".6"/>
<rect x="746.4" y="211.1" width="1.5" height="1.5" fill="#9fd0f6" opacity=".6"/>
<rect x="749.6" y="212.7" width="1.5" height="1.5" fill="#9fd0f6" opacity=".6"/>
<rect x="740.0" y="211.0" width="1.5" height="1.5" fill="#9fd0f6" opacity=".6"/>
<rect x="743.2" y="212.6" width="1.5" height="1.5" fill="#9fd0f6" opacity=".6"/>
<rect x="746.4" y="214.3" width="1.5" height="1.5" fill="#9fd0f6" opacity=".6"/>
<rect x="749.6" y="215.9" width="1.5" height="1.5" fill="#9fd0f6" opacity=".6"/>
<rect x="740.0" y="214.2" width="1.5" height="1.5" fill="#9fd0f6" opacity=".6"/>
<rect x="743.2" y="215.8" width="1.5" height="1.5" fill="#9fd0f6" opacity=".6"/>
<rect x="746.4" y="217.5" width="1.5" height="1.5" fill="#9fd0f6" opacity=".6"/>
<rect x="749.6" y="219.1" width="1.5" height="1.5" fill="#9fd0f6" opacity=".6"/>
<polygon points="719.5,210.2 754.0,227.8 754.0,240.4 719.5,222.8" fill="#4a6fb6" />
<rect x="723.0" y="217.3" width="2.4" height="2.4" fill="#b9d48e" opacity=".85"/>
<rect x="726.5" y="219.1" width="2.4" height="2.4" fill="#d8b98a" opacity=".85"/>
<rect x="740.0" y="223.2" width="1.5" height="1.5" fill="#9fd0f6" opacity=".6"/>
<rect x="743.2" y="224.8" width="1.5" height="1.5" fill="#9fd0f6" opacity=".6"/>
<rect x="746.4" y="226.5" width="1.5" height="1.5" fill="#9fd0f6" opacity=".6"/>
<rect x="749.6" y="228.1" width="1.5" height="1.5" fill="#9fd0f6" opacity=".6"/>
<rect x="740.0" y="226.4" width="1.5" height="1.5" fill="#9fd0f6" opacity=".6"/>
<rect x="743.2" y="228.0" width="1.5" height="1.5" fill="#9fd0f6" opacity=".6"/>
<rect x="746.4" y="229.7" width="1.5" height="1.5" fill="#9fd0f6" opacity=".6"/>
<rect x="749.6" y="231.3" width="1.5" height="1.5" fill="#9fd0f6" opacity=".6"/>
<rect x="740.0" y="229.6" width="1.5" height="1.5" fill="#9fd0f6" opacity=".6"/>
<rect x="743.2" y="231.2" width="1.5" height="1.5" fill="#9fd0f6" opacity=".6"/>
<rect x="746.4" y="232.9" width="1.5" height="1.5" fill="#9fd0f6" opacity=".6"/>
<rect x="749.6" y="234.5" width="1.5" height="1.5" fill="#9fd0f6" opacity=".6"/>
<polygon points="719.5,225.6 754.0,243.2 754.0,255.8 719.5,238.2" fill="#5264b2" />
<rect x="723.0" y="232.7" width="2.4" height="2.4" fill="#b9d48e" opacity=".85"/>
<rect x="726.5" y="234.5" width="2.4" height="2.4" fill="#d8b98a" opacity=".85"/>
<rect x="740.0" y="238.6" width="1.5" height="1.5" fill="#9fd0f6" opacity=".6"/>
<rect x="743.2" y="240.2" width="1.5" height="1.5" fill="#9fd0f6" opacity=".6"/>
<rect x="746.4" y="241.9" width="1.5" height="1.5" fill="#9fd0f6" opacity=".6"/>
<rect x="749.6" y="243.5" width="1.5" height="1.5" fill="#9fd0f6" opacity=".6"/>
<rect x="740.0" y="241.8" width="1.5" height="1.5" fill="#9fd0f6" opacity=".6"/>
<rect x="743.2" y="243.4" width="1.5" height="1.5" fill="#9fd0f6" opacity=".6"/>
<rect x="746.4" y="245.1" width="1.5" height="1.5" fill="#9fd0f6" opacity=".6"/>
<rect x="749.6" y="246.7" width="1.5" height="1.5" fill="#9fd0f6" opacity=".6"/>
<rect x="740.0" y="245.0" width="1.5" height="1.5" fill="#9fd0f6" opacity=".6"/>
<rect x="743.2" y="246.6" width="1.5" height="1.5" fill="#9fd0f6" opacity=".6"/>
<rect x="746.4" y="248.3" width="1.5" height="1.5" fill="#9fd0f6" opacity=".6"/>
<rect x="749.6" y="249.9" width="1.5" height="1.5" fill="#9fd0f6" opacity=".6"/>
<polygon points="719.5,241.0 754.0,258.6 754.0,271.2 719.5,253.6" fill="#5a58ac" />
<rect x="723.0" y="248.1" width="2.4" height="2.4" fill="#b9d48e" opacity=".85"/>
<rect x="726.5" y="249.9" width="2.4" height="2.4" fill="#d8b98a" opacity=".85"/>
<rect x="740.0" y="254.0" width="1.5" height="1.5" fill="#9fd0f6" opacity=".6"/>
<rect x="743.2" y="255.6" width="1.5" height="1.5" fill="#9fd0f6" opacity=".6"/>
<rect x="746.4" y="257.3" width="1.5" height="1.5" fill="#9fd0f6" opacity=".6"/>
<rect x="749.6" y="258.9" width="1.5" height="1.5" fill="#9fd0f6" opacity=".6"/>
<rect x="740.0" y="257.2" width="1.5" height="1.5" fill="#9fd0f6" opacity=".6"/>
<rect x="743.2" y="258.8" width="1.5" height="1.5" fill="#9fd0f6" opacity=".6"/>
<rect x="746.4" y="260.5" width="1.5" height="1.5" fill="#9fd0f6" opacity=".6"/>
<rect x="749.6" y="262.1" width="1.5" height="1.5" fill="#9fd0f6" opacity=".6"/>
<rect x="740.0" y="260.4" width="1.5" height="1.5" fill="#9fd0f6" opacity=".6"/>
<rect x="743.2" y="262.0" width="1.5" height="1.5" fill="#9fd0f6" opacity=".6"/>
<rect x="746.4" y="263.7" width="1.5" height="1.5" fill="#9fd0f6" opacity=".6"/>
<rect x="749.6" y="265.3" width="1.5" height="1.5" fill="#9fd0f6" opacity=".6"/>
<polygon points="719.5,256.4 754.0,274.0 754.0,286.6 719.5,269.0" fill="#6150a8" />
<rect x="723.0" y="263.5" width="2.4" height="2.4" fill="#b9d48e" opacity=".85"/>
<rect x="726.5" y="265.3" width="2.4" height="2.4" fill="#d8b98a" opacity=".85"/>
<rect x="740.0" y="269.4" width="1.5" height="1.5" fill="#9fd0f6" opacity=".6"/>
<rect x="743.2" y="271.0" width="1.5" height="1.5" fill="#9fd0f6" opacity=".6"/>
<rect x="746.4" y="272.7" width="1.5" height="1.5" fill="#9fd0f6" opacity=".6"/>
<rect x="749.6" y="274.3" width="1.5" height="1.5" fill="#9fd0f6" opacity=".6"/>
<rect x="740.0" y="272.6" width="1.5" height="1.5" fill="#9fd0f6" opacity=".6"/>
<rect x="743.2" y="274.2" width="1.5" height="1.5" fill="#9fd0f6" opacity=".6"/>
<rect x="746.4" y="275.9" width="1.5" height="1.5" fill="#9fd0f6" opacity=".6"/>
<rect x="749.6" y="277.5" width="1.5" height="1.5" fill="#9fd0f6" opacity=".6"/>
<rect x="740.0" y="275.8" width="1.5" height="1.5" fill="#9fd0f6" opacity=".6"/>
<rect x="743.2" y="277.4" width="1.5" height="1.5" fill="#9fd0f6" opacity=".6"/>
<rect x="746.4" y="279.1" width="1.5" height="1.5" fill="#9fd0f6" opacity=".6"/>
<rect x="749.6" y="280.7" width="1.5" height="1.5" fill="#9fd0f6" opacity=".6"/>
<polygon points="732.6,178.2 759.6,163.4 786.9,177.3 759.9,192.1" fill="#21468a" stroke="#21468a" stroke-width="2" stroke-linejoin="round"/>
<line x1="741.0" y1="178.5" x2="760.5" y2="167.8" stroke="#7cc0ee" stroke-width="2.3" stroke-linecap="round"/>
<line x1="747.0" y1="181.5" x2="766.5" y2="170.9" stroke="#7cc0ee" stroke-width="2.3" stroke-linecap="round"/>
<line x1="753.0" y1="184.6" x2="772.5" y2="174.0" stroke="#7cc0ee" stroke-width="2.3" stroke-linecap="round"/>
<line x1="759.0" y1="187.7" x2="778.5" y2="177.0" stroke="#7cc0ee" stroke-width="2.3" stroke-linecap="round"/>
<line x1="801.5" y1="185.7" x2="801.5" y2="247.1" stroke="#2f3f8a" stroke-width="1.3" opacity=".8"/>
<line x1="775.8" y1="262.1" x2="796.3" y2="250.9" stroke="#39409a" stroke-width="1.7" opacity=".9"/>
<line x1="775.8" y1="263.9" x2="796.3" y2="252.7" stroke="#86b2ea" stroke-width="1.1" opacity=".75"/>
<line x1="775.8" y1="265.8" x2="796.3" y2="254.6" stroke="#39409a" stroke-width="1.7" opacity=".9"/>
<line x1="775.8" y1="267.6" x2="796.3" y2="256.4" stroke="#86b2ea" stroke-width="1.1" opacity=".75"/>
<line x1="775.8" y1="269.5" x2="796.3" y2="258.3" stroke="#39409a" stroke-width="1.7" opacity=".9"/>
<line x1="775.8" y1="271.3" x2="796.3" y2="260.1" stroke="#86b2ea" stroke-width="1.1" opacity=".75"/>
<line x1="775.8" y1="273.2" x2="796.3" y2="262.0" stroke="#39409a" stroke-width="1.7" opacity=".9"/>
<line x1="775.8" y1="275.0" x2="796.3" y2="263.8" stroke="#86b2ea" stroke-width="1.1" opacity=".75"/>
<polygon points="840.0,248.0 886.5,222.5 886.5,316.0 840.0,341.5" fill="url(#gSrvR2)" stroke="url(#gSrvR2)" stroke-width="3" stroke-linejoin="round"/>
<polygon points="793.0,224.0 840.0,248.0 840.0,341.5 793.0,317.5" fill="url(#gSrvL2)" stroke="url(#gSrvL2)" stroke-width="3" stroke-linejoin="round"/>
<polygon points="793.0,224.0 839.5,198.5 886.5,222.5 840.0,248.0" fill="#a6d2f4" stroke="#a6d2f4" stroke-width="3" stroke-linejoin="round"/>
<polyline points="793.0,224.0 840.0,248.0 886.5,222.5" fill="none" stroke="#cfe8fa" stroke-width="1.6" stroke-linejoin="round" opacity=".9"/>
<line x1="840.0" y1="250.0" x2="840.0" y2="339.5" stroke="#b9dcf8" stroke-width="1.6" opacity=".8"/>
<polygon points="796.5,233.3 836.5,253.7 836.5,338.4 796.5,318.0" fill="#22357a" />
<polygon points="799.5,240.3 834.0,257.9 834.0,270.5 799.5,252.9" fill="#4779b8" />
<rect x="803.0" y="247.4" width="2.4" height="2.4" fill="#b9d48e" opacity=".85"/>
<rect x="806.5" y="249.2" width="2.4" height="2.4" fill="#d8b98a" opacity=".85"/>
<rect x="820.0" y="253.3" width="1.5" height="1.5" fill="#9fd0f6" opacity=".6"/>
<rect x="823.2" y="254.9" width="1.5" height="1.5" fill="#9fd0f6" opacity=".6"/>
<rect x="826.4" y="256.6" width="1.5" height="1.5" fill="#9fd0f6" opacity=".6"/>
<rect x="829.6" y="258.2" width="1.5" height="1.5" fill="#9fd0f6" opacity=".6"/>
<rect x="820.0" y="256.5" width="1.5" height="1.5" fill="#9fd0f6" opacity=".6"/>
<rect x="823.2" y="258.1" width="1.5" height="1.5" fill="#9fd0f6" opacity=".6"/>
<rect x="826.4" y="259.8" width="1.5" height="1.5" fill="#9fd0f6" opacity=".6"/>
<rect x="829.6" y="261.4" width="1.5" height="1.5" fill="#9fd0f6" opacity=".6"/>
<rect x="820.0" y="259.7" width="1.5" height="1.5" fill="#9fd0f6" opacity=".6"/>
<rect x="823.2" y="261.3" width="1.5" height="1.5" fill="#9fd0f6" opacity=".6"/>
<rect x="826.4" y="263.0" width="1.5" height="1.5" fill="#9fd0f6" opacity=".6"/>
<rect x="829.6" y="264.6" width="1.5" height="1.5" fill="#9fd0f6" opacity=".6"/>
<polygon points="799.5,255.7 834.0,273.3 834.0,285.9 799.5,268.3" fill="#4a6fb6" />
<rect x="803.0" y="262.8" width="2.4" height="2.4" fill="#b9d48e" opacity=".85"/>
<rect x="806.5" y="264.6" width="2.4" height="2.4" fill="#d8b98a" opacity=".85"/>
<rect x="820.0" y="268.7" width="1.5" height="1.5" fill="#9fd0f6" opacity=".6"/>
<rect x="823.2" y="270.3" width="1.5" height="1.5" fill="#9fd0f6" opacity=".6"/>
<rect x="826.4" y="272.0" width="1.5" height="1.5" fill="#9fd0f6" opacity=".6"/>
<rect x="829.6" y="273.6" width="1.5" height="1.5" fill="#9fd0f6" opacity=".6"/>
<rect x="820.0" y="271.9" width="1.5" height="1.5" fill="#9fd0f6" opacity=".6"/>
<rect x="823.2" y="273.5" width="1.5" height="1.5" fill="#9fd0f6" opacity=".6"/>
<rect x="826.4" y="275.2" width="1.5" height="1.5" fill="#9fd0f6" opacity=".6"/>
<rect x="829.6" y="276.8" width="1.5" height="1.5" fill="#9fd0f6" opacity=".6"/>
<rect x="820.0" y="275.1" width="1.5" height="1.5" fill="#9fd0f6" opacity=".6"/>
<rect x="823.2" y="276.7" width="1.5" height="1.5" fill="#9fd0f6" opacity=".6"/>
<rect x="826.4" y="278.4" width="1.5" height="1.5" fill="#9fd0f6" opacity=".6"/>
<rect x="829.6" y="280.0" width="1.5" height="1.5" fill="#9fd0f6" opacity=".6"/>
<polygon points="799.5,271.1 834.0,288.7 834.0,301.3 799.5,283.7" fill="#5264b2" />
<rect x="803.0" y="278.2" width="2.4" height="2.4" fill="#b9d48e" opacity=".85"/>
<rect x="806.5" y="280.0" width="2.4" height="2.4" fill="#d8b98a" opacity=".85"/>
<rect x="820.0" y="284.1" width="1.5" height="1.5" fill="#9fd0f6" opacity=".6"/>
<rect x="823.2" y="285.7" width="1.5" height="1.5" fill="#9fd0f6" opacity=".6"/>
<rect x="826.4" y="287.4" width="1.5" height="1.5" fill="#9fd0f6" opacity=".6"/>
<rect x="829.6" y="289.0" width="1.5" height="1.5" fill="#9fd0f6" opacity=".6"/>
<rect x="820.0" y="287.3" width="1.5" height="1.5" fill="#9fd0f6" opacity=".6"/>
<rect x="823.2" y="288.9" width="1.5" height="1.5" fill="#9fd0f6" opacity=".6"/>
<rect x="826.4" y="290.6" width="1.5" height="1.5" fill="#9fd0f6" opacity=".6"/>
<rect x="829.6" y="292.2" width="1.5" height="1.5" fill="#9fd0f6" opacity=".6"/>
<rect x="820.0" y="290.5" width="1.5" height="1.5" fill="#9fd0f6" opacity=".6"/>
<rect x="823.2" y="292.1" width="1.5" height="1.5" fill="#9fd0f6" opacity=".6"/>
<rect x="826.4" y="293.8" width="1.5" height="1.5" fill="#9fd0f6" opacity=".6"/>
<rect x="829.6" y="295.4" width="1.5" height="1.5" fill="#9fd0f6" opacity=".6"/>
<polygon points="799.5,286.5 834.0,304.1 834.0,316.7 799.5,299.1" fill="#5a58ac" />
<rect x="803.0" y="293.6" width="2.4" height="2.4" fill="#b9d48e" opacity=".85"/>
<rect x="806.5" y="295.4" width="2.4" height="2.4" fill="#d8b98a" opacity=".85"/>
<rect x="820.0" y="299.5" width="1.5" height="1.5" fill="#9fd0f6" opacity=".6"/>
<rect x="823.2" y="301.1" width="1.5" height="1.5" fill="#9fd0f6" opacity=".6"/>
<rect x="826.4" y="302.8" width="1.5" height="1.5" fill="#9fd0f6" opacity=".6"/>
<rect x="829.6" y="304.4" width="1.5" height="1.5" fill="#9fd0f6" opacity=".6"/>
<rect x="820.0" y="302.7" width="1.5" height="1.5" fill="#9fd0f6" opacity=".6"/>
<rect x="823.2" y="304.3" width="1.5" height="1.5" fill="#9fd0f6" opacity=".6"/>
<rect x="826.4" y="306.0" width="1.5" height="1.5" fill="#9fd0f6" opacity=".6"/>
<rect x="829.6" y="307.6" width="1.5" height="1.5" fill="#9fd0f6" opacity=".6"/>
<rect x="820.0" y="305.9" width="1.5" height="1.5" fill="#9fd0f6" opacity=".6"/>
<rect x="823.2" y="307.5" width="1.5" height="1.5" fill="#9fd0f6" opacity=".6"/>
<rect x="826.4" y="309.2" width="1.5" height="1.5" fill="#9fd0f6" opacity=".6"/>
<rect x="829.6" y="310.8" width="1.5" height="1.5" fill="#9fd0f6" opacity=".6"/>
<polygon points="799.5,301.9 834.0,319.5 834.0,332.1 799.5,314.5" fill="#6150a8" />
<rect x="803.0" y="309.0" width="2.4" height="2.4" fill="#b9d48e" opacity=".85"/>
<rect x="806.5" y="310.8" width="2.4" height="2.4" fill="#d8b98a" opacity=".85"/>
<rect x="820.0" y="314.9" width="1.5" height="1.5" fill="#9fd0f6" opacity=".6"/>
<rect x="823.2" y="316.5" width="1.5" height="1.5" fill="#9fd0f6" opacity=".6"/>
<rect x="826.4" y="318.2" width="1.5" height="1.5" fill="#9fd0f6" opacity=".6"/>
<rect x="829.6" y="319.8" width="1.5" height="1.5" fill="#9fd0f6" opacity=".6"/>
<rect x="820.0" y="318.1" width="1.5" height="1.5" fill="#9fd0f6" opacity=".6"/>
<rect x="823.2" y="319.7" width="1.5" height="1.5" fill="#9fd0f6" opacity=".6"/>
<rect x="826.4" y="321.4" width="1.5" height="1.5" fill="#9fd0f6" opacity=".6"/>
<rect x="829.6" y="323.0" width="1.5" height="1.5" fill="#9fd0f6" opacity=".6"/>
<rect x="820.0" y="321.3" width="1.5" height="1.5" fill="#9fd0f6" opacity=".6"/>
<rect x="823.2" y="322.9" width="1.5" height="1.5" fill="#9fd0f6" opacity=".6"/>
<rect x="826.4" y="324.6" width="1.5" height="1.5" fill="#9fd0f6" opacity=".6"/>
<rect x="829.6" y="326.2" width="1.5" height="1.5" fill="#9fd0f6" opacity=".6"/>
<polygon points="812.6,223.7 839.6,208.9 866.9,222.8 839.9,237.6" fill="#21468a" stroke="#21468a" stroke-width="2" stroke-linejoin="round"/>
<line x1="821.0" y1="224.0" x2="840.5" y2="213.3" stroke="#7cc0ee" stroke-width="2.3" stroke-linecap="round"/>
<line x1="827.0" y1="227.0" x2="846.5" y2="216.4" stroke="#7cc0ee" stroke-width="2.3" stroke-linecap="round"/>
<line x1="833.0" y1="230.1" x2="852.5" y2="219.5" stroke="#7cc0ee" stroke-width="2.3" stroke-linecap="round"/>
<line x1="839.0" y1="233.2" x2="858.5" y2="222.5" stroke="#7cc0ee" stroke-width="2.3" stroke-linecap="round"/>
<line x1="881.5" y1="231.2" x2="881.5" y2="292.6" stroke="#2f3f8a" stroke-width="1.3" opacity=".8"/>
<line x1="855.8" y1="307.6" x2="876.3" y2="296.4" stroke="#39409a" stroke-width="1.7" opacity=".9"/>
<line x1="855.8" y1="309.4" x2="876.3" y2="298.2" stroke="#86b2ea" stroke-width="1.1" opacity=".75"/>
<line x1="855.8" y1="311.3" x2="876.3" y2="300.1" stroke="#39409a" stroke-width="1.7" opacity=".9"/>
<line x1="855.8" y1="313.1" x2="876.3" y2="301.9" stroke="#86b2ea" stroke-width="1.1" opacity=".75"/>
<line x1="855.8" y1="315.0" x2="876.3" y2="303.8" stroke="#39409a" stroke-width="1.7" opacity=".9"/>
<line x1="855.8" y1="316.8" x2="876.3" y2="305.6" stroke="#86b2ea" stroke-width="1.1" opacity=".75"/>
<line x1="855.8" y1="318.7" x2="876.3" y2="307.5" stroke="#39409a" stroke-width="1.7" opacity=".9"/>
<line x1="855.8" y1="320.5" x2="876.3" y2="309.3" stroke="#86b2ea" stroke-width="1.1" opacity=".75"/>
<polygon points="920.0,293.5 966.5,268.0 966.5,361.5 920.0,387.0" fill="url(#gSrvR2)" stroke="url(#gSrvR2)" stroke-width="3" stroke-linejoin="round"/>
<polygon points="873.0,269.5 920.0,293.5 920.0,387.0 873.0,363.0" fill="url(#gSrvL2)" stroke="url(#gSrvL2)" stroke-width="3" stroke-linejoin="round"/>
<polygon points="873.0,269.5 919.5,244.0 966.5,268.0 920.0,293.5" fill="#a6d2f4" stroke="#a6d2f4" stroke-width="3" stroke-linejoin="round"/>
<polyline points="873.0,269.5 920.0,293.5 966.5,268.0" fill="none" stroke="#cfe8fa" stroke-width="1.6" stroke-linejoin="round" opacity=".9"/>
<line x1="920.0" y1="295.5" x2="920.0" y2="385.0" stroke="#b9dcf8" stroke-width="1.6" opacity=".8"/>
<polygon points="876.5,278.8 916.5,299.2 916.5,383.9 876.5,363.5" fill="#22357a" />
<polygon points="879.5,285.8 914.0,303.4 914.0,316.0 879.5,298.4" fill="#4779b8" />
<rect x="883.0" y="292.9" width="2.4" height="2.4" fill="#b9d48e" opacity=".85"/>
<rect x="886.5" y="294.7" width="2.4" height="2.4" fill="#d8b98a" opacity=".85"/>
<rect x="900.0" y="298.8" width="1.5" height="1.5" fill="#9fd0f6" opacity=".6"/>
<rect x="903.2" y="300.4" width="1.5" height="1.5" fill="#9fd0f6" opacity=".6"/>
<rect x="906.4" y="302.1" width="1.5" height="1.5" fill="#9fd0f6" opacity=".6"/>
<rect x="909.6" y="303.7" width="1.5" height="1.5" fill="#9fd0f6" opacity=".6"/>
<rect x="900.0" y="302.0" width="1.5" height="1.5" fill="#9fd0f6" opacity=".6"/>
<rect x="903.2" y="303.6" width="1.5" height="1.5" fill="#9fd0f6" opacity=".6"/>
<rect x="906.4" y="305.3" width="1.5" height="1.5" fill="#9fd0f6" opacity=".6"/>
<rect x="909.6" y="306.9" width="1.5" height="1.5" fill="#9fd0f6" opacity=".6"/>
<rect x="900.0" y="305.2" width="1.5" height="1.5" fill="#9fd0f6" opacity=".6"/>
<rect x="903.2" y="306.8" width="1.5" height="1.5" fill="#9fd0f6" opacity=".6"/>
<rect x="906.4" y="308.5" width="1.5" height="1.5" fill="#9fd0f6" opacity=".6"/>
<rect x="909.6" y="310.1" width="1.5" height="1.5" fill="#9fd0f6" opacity=".6"/>
<polygon points="879.5,301.2 914.0,318.8 914.0,331.4 879.5,313.8" fill="#4a6fb6" />
<rect x="883.0" y="308.3" width="2.4" height="2.4" fill="#b9d48e" opacity=".85"/>
<rect x="886.5" y="310.1" width="2.4" height="2.4" fill="#d8b98a" opacity=".85"/>
<rect x="900.0" y="314.2" width="1.5" height="1.5" fill="#9fd0f6" opacity=".6"/>
<rect x="903.2" y="315.8" width="1.5" height="1.5" fill="#9fd0f6" opacity=".6"/>
<rect x="906.4" y="317.5" width="1.5" height="1.5" fill="#9fd0f6" opacity=".6"/>
<rect x="909.6" y="319.1" width="1.5" height="1.5" fill="#9fd0f6" opacity=".6"/>
<rect x="900.0" y="317.4" width="1.5" height="1.5" fill="#9fd0f6" opacity=".6"/>
<rect x="903.2" y="319.0" width="1.5" height="1.5" fill="#9fd0f6" opacity=".6"/>
<rect x="906.4" y="320.7" width="1.5" height="1.5" fill="#9fd0f6" opacity=".6"/>
<rect x="909.6" y="322.3" width="1.5" height="1.5" fill="#9fd0f6" opacity=".6"/>
<rect x="900.0" y="320.6" width="1.5" height="1.5" fill="#9fd0f6" opacity=".6"/>
<rect x="903.2" y="322.2" width="1.5" height="1.5" fill="#9fd0f6" opacity=".6"/>
<rect x="906.4" y="323.9" width="1.5" height="1.5" fill="#9fd0f6" opacity=".6"/>
<rect x="909.6" y="325.5" width="1.5" height="1.5" fill="#9fd0f6" opacity=".6"/>
<polygon points="879.5,316.6 914.0,334.2 914.0,346.8 879.5,329.2" fill="#5264b2" />
<rect x="883.0" y="323.7" width="2.4" height="2.4" fill="#b9d48e" opacity=".85"/>
<rect x="886.5" y="325.5" width="2.4" height="2.4" fill="#d8b98a" opacity=".85"/>
<rect x="900.0" y="329.6" width="1.5" height="1.5" fill="#9fd0f6" opacity=".6"/>
<rect x="903.2" y="331.2" width="1.5" height="1.5" fill="#9fd0f6" opacity=".6"/>
<rect x="906.4" y="332.9" width="1.5" height="1.5" fill="#9fd0f6" opacity=".6"/>
<rect x="909.6" y="334.5" width="1.5" height="1.5" fill="#9fd0f6" opacity=".6"/>
<rect x="900.0" y="332.8" width="1.5" height="1.5" fill="#9fd0f6" opacity=".6"/>
<rect x="903.2" y="334.4" width="1.5" height="1.5" fill="#9fd0f6" opacity=".6"/>
<rect x="906.4" y="336.1" width="1.5" height="1.5" fill="#9fd0f6" opacity=".6"/>
<rect x="909.6" y="337.7" width="1.5" height="1.5" fill="#9fd0f6" opacity=".6"/>
<rect x="900.0" y="336.0" width="1.5" height="1.5" fill="#9fd0f6" opacity=".6"/>
<rect x="903.2" y="337.6" width="1.5" height="1.5" fill="#9fd0f6" opacity=".6"/>
<rect x="906.4" y="339.3" width="1.5" height="1.5" fill="#9fd0f6" opacity=".6"/>
<rect x="909.6" y="340.9" width="1.5" height="1.5" fill="#9fd0f6" opacity=".6"/>
<polygon points="879.5,332.0 914.0,349.6 914.0,362.2 879.5,344.6" fill="#5a58ac" />
<rect x="883.0" y="339.1" width="2.4" height="2.4" fill="#b9d48e" opacity=".85"/>
<rect x="886.5" y="340.9" width="2.4" height="2.4" fill="#d8b98a" opacity=".85"/>
<rect x="900.0" y="345.0" width="1.5" height="1.5" fill="#9fd0f6" opacity=".6"/>
<rect x="903.2" y="346.6" width="1.5" height="1.5" fill="#9fd0f6" opacity=".6"/>
<rect x="906.4" y="348.3" width="1.5" height="1.5" fill="#9fd0f6" opacity=".6"/>
<rect x="909.6" y="349.9" width="1.5" height="1.5" fill="#9fd0f6" opacity=".6"/>
<rect x="900.0" y="348.2" width="1.5" height="1.5" fill="#9fd0f6" opacity=".6"/>
<rect x="903.2" y="349.8" width="1.5" height="1.5" fill="#9fd0f6" opacity=".6"/>
<rect x="906.4" y="351.5" width="1.5" height="1.5" fill="#9fd0f6" opacity=".6"/>
<rect x="909.6" y="353.1" width="1.5" height="1.5" fill="#9fd0f6" opacity=".6"/>
<rect x="900.0" y="351.4" width="1.5" height="1.5" fill="#9fd0f6" opacity=".6"/>
<rect x="903.2" y="353.0" width="1.5" height="1.5" fill="#9fd0f6" opacity=".6"/>
<rect x="906.4" y="354.7" width="1.5" height="1.5" fill="#9fd0f6" opacity=".6"/>
<rect x="909.6" y="356.3" width="1.5" height="1.5" fill="#9fd0f6" opacity=".6"/>
<polygon points="879.5,347.4 914.0,365.0 914.0,377.6 879.5,360.0" fill="#6150a8" />
<rect x="883.0" y="354.5" width="2.4" height="2.4" fill="#b9d48e" opacity=".85"/>
<rect x="886.5" y="356.3" width="2.4" height="2.4" fill="#d8b98a" opacity=".85"/>
<rect x="900.0" y="360.4" width="1.5" height="1.5" fill="#9fd0f6" opacity=".6"/>
<rect x="903.2" y="362.0" width="1.5" height="1.5" fill="#9fd0f6" opacity=".6"/>
<rect x="906.4" y="363.7" width="1.5" height="1.5" fill="#9fd0f6" opacity=".6"/>
<rect x="909.6" y="365.3" width="1.5" height="1.5" fill="#9fd0f6" opacity=".6"/>
<rect x="900.0" y="363.6" width="1.5" height="1.5" fill="#9fd0f6" opacity=".6"/>
<rect x="903.2" y="365.2" width="1.5" height="1.5" fill="#9fd0f6" opacity=".6"/>
<rect x="906.4" y="366.9" width="1.5" height="1.5" fill="#9fd0f6" opacity=".6"/>
<rect x="909.6" y="368.5" width="1.5" height="1.5" fill="#9fd0f6" opacity=".6"/>
<rect x="900.0" y="366.8" width="1.5" height="1.5" fill="#9fd0f6" opacity=".6"/>
<rect x="903.2" y="368.4" width="1.5" height="1.5" fill="#9fd0f6" opacity=".6"/>
<rect x="906.4" y="370.1" width="1.5" height="1.5" fill="#9fd0f6" opacity=".6"/>
<rect x="909.6" y="371.7" width="1.5" height="1.5" fill="#9fd0f6" opacity=".6"/>
<polygon points="892.6,269.2 919.6,254.4 946.9,268.3 919.9,283.1" fill="#21468a" stroke="#21468a" stroke-width="2" stroke-linejoin="round"/>
<line x1="901.0" y1="269.5" x2="920.5" y2="258.8" stroke="#7cc0ee" stroke-width="2.3" stroke-linecap="round"/>
<line x1="907.0" y1="272.5" x2="926.5" y2="261.9" stroke="#7cc0ee" stroke-width="2.3" stroke-linecap="round"/>
<line x1="913.0" y1="275.6" x2="932.5" y2="265.0" stroke="#7cc0ee" stroke-width="2.3" stroke-linecap="round"/>
<line x1="919.0" y1="278.7" x2="938.5" y2="268.0" stroke="#7cc0ee" stroke-width="2.3" stroke-linecap="round"/>
<line x1="961.5" y1="276.7" x2="961.5" y2="338.1" stroke="#2f3f8a" stroke-width="1.3" opacity=".8"/>
<line x1="935.8" y1="353.1" x2="956.3" y2="341.9" stroke="#39409a" stroke-width="1.7" opacity=".9"/>
<line x1="935.8" y1="354.9" x2="956.3" y2="343.7" stroke="#86b2ea" stroke-width="1.1" opacity=".75"/>
<line x1="935.8" y1="356.8" x2="956.3" y2="345.6" stroke="#39409a" stroke-width="1.7" opacity=".9"/>
<line x1="935.8" y1="358.6" x2="956.3" y2="347.4" stroke="#86b2ea" stroke-width="1.1" opacity=".75"/>
<line x1="935.8" y1="360.5" x2="956.3" y2="349.3" stroke="#39409a" stroke-width="1.7" opacity=".9"/>
<line x1="935.8" y1="362.3" x2="956.3" y2="351.1" stroke="#86b2ea" stroke-width="1.1" opacity=".75"/>
<line x1="935.8" y1="364.2" x2="956.3" y2="353.0" stroke="#39409a" stroke-width="1.7" opacity=".9"/>
<line x1="935.8" y1="366.0" x2="956.3" y2="354.8" stroke="#86b2ea" stroke-width="1.1" opacity=".75"/>
<circle cx="793" cy="162.3" r="12.4" fill="#38b257"/>
<polyline points="787.8,162.5 791.4,166.1 798.2,158.7" fill="none" stroke="#fff" stroke-width="3" stroke-linecap="round" stroke-linejoin="round"/>
<circle cx="872.7" cy="207.5" r="12.4" fill="#38b257"/>
<polyline points="867.5,207.7 871.1,211.3 877.9,203.9" fill="none" stroke="#fff" stroke-width="3" stroke-linecap="round" stroke-linejoin="round"/>
<circle cx="952" cy="251.5" r="12.4" fill="#38b257"/>
<polyline points="946.8,251.7 950.4,255.3 957.2,247.9" fill="none" stroke="#fff" stroke-width="3" stroke-linecap="round" stroke-linejoin="round"/>
<filter id="fBl" x="-30%" y="-30%" width="160%" height="160%"><feGaussianBlur stdDeviation="7"/></filter>
<polygon points="640.0,372.0 690.0,340.0 794.0,402.0 742.0,440.0" fill="#3f9cf4" opacity=".55" filter="url(#fBl)"/>
<linearGradient id="gLBf" gradientUnits="userSpaceOnUse" x1="644" y1="370" x2="740" y2="430"><stop offset="0" stop-color="#2f96f4"/><stop offset="1" stop-color="#1c62d8"/></linearGradient>
<linearGradient id="gLBs" gradientUnits="userSpaceOnUse" x1="740" y1="430" x2="790" y2="405"><stop offset="0" stop-color="#2a66d2"/><stop offset="1" stop-color="#2b45b0"/></linearGradient>
<polygon points="643.8,362.6 740.2,420.2 740.2,437.2 643.8,379.6" fill="url(#gLBf)" stroke="url(#gLBf)" stroke-width="3" stroke-linejoin="round"/>
<polygon points="740.2,420.2 790.2,397.6 790.2,414.6 740.2,437.2" fill="url(#gLBs)" stroke="url(#gLBs)" stroke-width="3" stroke-linejoin="round"/>
<linearGradient id="gLBt" gradientUnits="userSpaceOnUse" x1="655" y1="350" x2="785" y2="405"><stop offset="0" stop-color="#66ccfc"/><stop offset=".35" stop-color="#3a9aec"/><stop offset="1" stop-color="#3060cc"/></linearGradient>
<polygon points="643.8,362.6 690.0,336.3 790.2,397.6 740.2,420.2" fill="url(#gLBt)" stroke="url(#gLBt)" stroke-width="4" stroke-linejoin="round"/>
<path d="M654.5 362.3 L689.1 342.6 Q692.6 340.6 696.0 342.7 L779.4 393.7 Q782.8 395.8 779.1 397.4 L741.4 414.4 Q737.8 416.1 734.4 414.0 L654.5 366.3 Q651.0 364.3 654.5 362.3 Z" fill="none" stroke="#72e0ff" stroke-width="1.5" opacity="1"/>
<polyline points="643.8,362.6 740.2,420.2 790.2,397.6" fill="none" stroke="#a8e4ff" stroke-width="1.4" opacity=".9"/>
<line x1="711.0" y1="407.0" x2="729.0" y2="417.8" stroke="#8fd0ff" stroke-width="1.2"/>
<line x1="711.0" y1="410.6" x2="729.0" y2="421.4" stroke="#8fd0ff" stroke-width="1.2"/>
<line x1="711.0" y1="414.2" x2="729.0" y2="425.0" stroke="#8fd0ff" stroke-width="1.2"/>
<line x1="650" y1="371" x2="661" y2="377.5" stroke="#bfe6ff" stroke-width="1.6" opacity=".8"/>
<text transform="matrix(.867 .498 -.74 .67 676.6 357.8)" font-family="Liberation Sans, Arial, sans-serif" font-weight="700" font-size="11.6" fill="#f2fbff" stroke="#f2fbff" stroke-width=".35" textLength="85" lengthAdjust="spacingAndGlyphs">LOAD BALANCER</text>
<polygon points="631.7,426.6 648.9,416.6 662.7,424.4 645.5,434.4" fill="#d87a18" />
<polygon points="631.7,424.4 648.9,414.4 662.7,422.2 645.5,432.2" fill="#f6a235" />
<polygon points="648.9,414.4 662.7,422.2 648.1,422.8" fill="#fbb651" />
<polyline points="648.9,414.4 648.1,422.8 662.7,422.2" fill="none" stroke="#e2811c" stroke-width=".9"/>
<polyline points="631.7,424.4 644.7,423.5" fill="none" stroke="#e2811c" stroke-width=".6" opacity=".7"/>
<polyline points="645.5,432.2 646.9,424.7" fill="none" stroke="#e2811c" stroke-width=".6" opacity=".7"/>
<polygon points="657.6,440.8 673.6,431.0 690.0,440.2 674.0,450.0" fill="#b9c8e2" />
<polygon points="657.6,438.6 673.6,428.8 690.0,438.0 674.0,447.8" fill="#eef3fb" />
<line x1="673.7" y1="431.5" x2="685.5" y2="438.1" stroke="#5a3f98" stroke-width="2.2"/>
<line x1="671.3" y1="432.9" x2="683.1" y2="439.5" stroke="#9aaac8" stroke-width=".9"/>
<line x1="669.0" y1="434.3" x2="680.8" y2="440.9" stroke="#9aaac8" stroke-width=".9"/>
<line x1="666.7" y1="435.7" x2="678.5" y2="442.3" stroke="#9aaac8" stroke-width=".9"/>
<line x1="664.4" y1="437.1" x2="676.2" y2="443.8" stroke="#9aaac8" stroke-width=".9"/>
<line x1="662.1" y1="438.6" x2="668.8" y2="442.3" stroke="#9aaac8" stroke-width=".9"/>
<polygon points="589.4,449.8 605.4,440.0 621.8,449.2 605.8,459.0" fill="#b9c8e2" />
<polygon points="589.4,447.6 605.4,437.8 621.8,447.0 605.8,456.8" fill="#eef3fb" />
<line x1="605.5" y1="440.5" x2="617.3" y2="447.1" stroke="#5a3f98" stroke-width="2.2"/>
<line x1="603.1" y1="441.9" x2="614.9" y2="448.5" stroke="#9aaac8" stroke-width=".9"/>
<line x1="600.8" y1="443.3" x2="612.6" y2="449.9" stroke="#9aaac8" stroke-width=".9"/>
<line x1="598.5" y1="444.7" x2="610.3" y2="451.3" stroke="#9aaac8" stroke-width=".9"/>
<line x1="596.2" y1="446.1" x2="608.0" y2="452.8" stroke="#9aaac8" stroke-width=".9"/>
<line x1="593.9" y1="447.6" x2="600.6" y2="451.3" stroke="#9aaac8" stroke-width=".9"/>
<polygon points="616.5,466.0 633.7,456.0 647.5,463.8 630.3,473.8" fill="#d87a18" />
<polygon points="616.5,463.8 633.7,453.8 647.5,461.6 630.3,471.6" fill="#f6a235" />
<polygon points="633.7,453.8 647.5,461.6 632.9,462.2" fill="#fbb651" />
<polyline points="633.7,453.8 632.9,462.2 647.5,461.6" fill="none" stroke="#e2811c" stroke-width=".9"/>
<polyline points="616.5,463.8 629.5,462.9" fill="none" stroke="#e2811c" stroke-width=".6" opacity=".7"/>
<polyline points="630.3,471.6 631.7,464.1" fill="none" stroke="#e2811c" stroke-width=".6" opacity=".7"/>
<polygon points="549.4,476.2 566.6,466.2 580.4,474.0 563.2,484.0" fill="#d87a18" />
<polygon points="549.4,474.0 566.6,464.0 580.4,471.8 563.2,481.8" fill="#f6a235" />
<polygon points="566.6,464.0 580.4,471.8 565.8,472.4" fill="#fbb651" />
<polyline points="566.6,464.0 565.8,472.4 580.4,471.8" fill="none" stroke="#e2811c" stroke-width=".9"/>
<polyline points="549.4,474.0 562.4,473.1" fill="none" stroke="#e2811c" stroke-width=".6" opacity=".7"/>
<polyline points="563.2,481.8 564.6,474.3" fill="none" stroke="#e2811c" stroke-width=".6" opacity=".7"/>
<polygon points="576.0,491.6 593.2,481.6 607.0,489.4 589.8,499.4" fill="#d87a18" />
<polygon points="576.0,489.4 593.2,479.4 607.0,487.2 589.8,497.2" fill="#f6a235" />
<polygon points="593.2,479.4 607.0,487.2 592.4,487.8" fill="#fbb651" />
<polyline points="593.2,479.4 592.4,487.8 607.0,487.2" fill="none" stroke="#e2811c" stroke-width=".9"/>
<polyline points="576.0,489.4 589.0,488.5" fill="none" stroke="#e2811c" stroke-width=".6" opacity=".7"/>
<polyline points="589.8,497.2 591.2,489.7" fill="none" stroke="#e2811c" stroke-width=".6" opacity=".7"/>
<clipPath id="cR"><rect x="512.5" y="0" width="512" height="559"/></clipPath><g clip-path="url(#cR)">
<polygon points="510.8,498.4 524.0,490.4 537.2,498.0 524.0,506.0" fill="#3f2a78" />
<polygon points="510.8,496.2 524.0,488.2 537.2,495.8 524.0,503.8" fill="#5b409c" />
<line x1="524.0" y1="490.4" x2="533.5" y2="495.9" stroke="#86b6f2" stroke-width="1.1"/>
<line x1="522.1" y1="491.5" x2="531.6" y2="497.0" stroke="#86b6f2" stroke-width="1.1"/>
<line x1="520.2" y1="492.7" x2="529.7" y2="498.2" stroke="#86b6f2" stroke-width="1.1"/>
<line x1="518.3" y1="493.9" x2="527.8" y2="499.3" stroke="#86b6f2" stroke-width="1.1"/>
<line x1="516.3" y1="495.0" x2="525.8" y2="500.5" stroke="#86b6f2" stroke-width="1.1"/>
<line x1="514.4" y1="496.2" x2="519.8" y2="499.3" stroke="#86b6f2" stroke-width="1.1"/>
</g>
<polygon points="536.6,513.8 549.8,505.8 563.0,513.4 549.8,521.4" fill="#3f2a78" />
<polygon points="536.6,511.6 549.8,503.6 563.0,511.2 549.8,519.2" fill="#5b409c" />
<line x1="549.8" y1="505.8" x2="559.3" y2="511.3" stroke="#86b6f2" stroke-width="1.1"/>
<line x1="547.9" y1="506.9" x2="557.4" y2="512.4" stroke="#86b6f2" stroke-width="1.1"/>
<line x1="546.0" y1="508.1" x2="555.5" y2="513.6" stroke="#86b6f2" stroke-width="1.1"/>
<line x1="544.1" y1="509.3" x2="553.6" y2="514.7" stroke="#86b6f2" stroke-width="1.1"/>
<line x1="542.1" y1="510.4" x2="551.6" y2="515.9" stroke="#86b6f2" stroke-width="1.1"/>
<line x1="540.2" y1="511.6" x2="545.6" y2="514.7" stroke="#86b6f2" stroke-width="1.1"/>
<linearGradient id="ga995" gradientUnits="userSpaceOnUse" x1="568.0" y1="449.8" x2="597.9" y2="433.8"><stop offset="0" stop-color="#5cccf0" stop-opacity="0"/><stop offset=".75" stop-color="#5cccf0" stop-opacity="1"/></linearGradient>
<polygon points="568.0,449.8 590.0,440.3 591.7,443.4 597.9,433.8 586.5,433.7 588.1,436.8" fill="url(#ga995)" />
<linearGradient id="ga997" gradientUnits="userSpaceOnUse" x1="621.0" y1="441.5" x2="635.4" y2="432.9"><stop offset="0" stop-color="#5cccf0" stop-opacity="0"/><stop offset=".75" stop-color="#5cccf0" stop-opacity="1"/></linearGradient>
<polygon points="621.0,441.5 629.5,438.5 630.8,440.8 635.4,432.9 626.3,433.2 627.6,435.5" fill="url(#ga997)" />
<linearGradient id="ga999" gradientUnits="userSpaceOnUse" x1="579.3" y1="464.0" x2="592.7" y2="456.9"><stop offset="0" stop-color="#5cccf0" stop-opacity="0"/><stop offset=".75" stop-color="#5cccf0" stop-opacity="1"/></linearGradient>
<polygon points="579.3,464.0 586.5,462.2 587.7,464.5 592.7,456.9 583.6,456.8 584.8,459.1" fill="url(#ga999)" />
<linearGradient id="ga1001" gradientUnits="userSpaceOnUse" x1="645.0" y1="455.3" x2="660.0" y2="447.3"><stop offset="0" stop-color="#5cccf0" stop-opacity="0"/><stop offset=".75" stop-color="#5cccf0" stop-opacity="1"/></linearGradient>
<polygon points="645.0,455.3 653.8,452.7 655.0,454.9 660.0,447.3 650.9,447.2 652.1,449.5" fill="url(#ga1001)" />
<linearGradient id="ga1003" gradientUnits="userSpaceOnUse" x1="536.0" y1="489.0" x2="550.4" y2="481.9"><stop offset="0" stop-color="#5cccf0" stop-opacity="0"/><stop offset=".75" stop-color="#5cccf0" stop-opacity="1"/></linearGradient>
<polygon points="536.0,489.0 544.0,487.1 545.2,489.4 550.4,481.9 541.3,481.5 542.4,483.8" fill="url(#ga1003)" />
<linearGradient id="ga1005" gradientUnits="userSpaceOnUse" x1="603.3" y1="478.7" x2="617.7" y2="471.3"><stop offset="0" stop-color="#5cccf0" stop-opacity="0"/><stop offset=".75" stop-color="#5cccf0" stop-opacity="1"/></linearGradient>
<polygon points="603.3,478.7 611.4,476.6 612.6,478.9 617.7,471.3 608.6,471.0 609.8,473.4" fill="url(#ga1005)" />
<linearGradient id="ga1007" gradientUnits="userSpaceOnUse" x1="561.7" y1="504.3" x2="577.0" y2="497.0"><stop offset="0" stop-color="#5cccf0" stop-opacity="0"/><stop offset=".75" stop-color="#5cccf0" stop-opacity="1"/></linearGradient>
<polygon points="561.7,504.3 570.6,502.1 571.7,504.4 577.0,497.0 567.9,496.5 569.0,498.8" fill="url(#ga1007)" />
<linearGradient id="ga1009" gradientUnits="userSpaceOnUse" x1="603.3" y1="504.3" x2="635.4" y2="488.3"><stop offset="0" stop-color="#5cccf0" stop-opacity="0"/><stop offset=".75" stop-color="#5cccf0" stop-opacity="1"/></linearGradient>
<polygon points="603.3,504.3 627.3,494.6 628.9,497.7 635.4,488.3 624.0,487.8 625.6,491.0" fill="url(#ga1009)" />
<linearGradient id="ga1011" gradientUnits="userSpaceOnUse" x1="761.7" y1="358.5" x2="795.5" y2="338.0"><stop offset="0" stop-color="#5cccf0" stop-opacity="0"/><stop offset=".75" stop-color="#5cccf0" stop-opacity="1"/></linearGradient>
<polygon points="761.7,358.5 788.0,344.9 789.8,347.9 795.5,338.0 784.1,338.5 785.9,341.5" fill="url(#ga1011)" />
<path d="M983.0 500.2 Q987.4 513.8 1001.0 518.2 Q987.4 522.6 983.0 536.2 Q978.6 522.6 965.0 518.2 Q978.6 513.8 983.0 500.2 Z" fill="#b6a4d4" opacity=".95"/>
</svg>
</body></html>
